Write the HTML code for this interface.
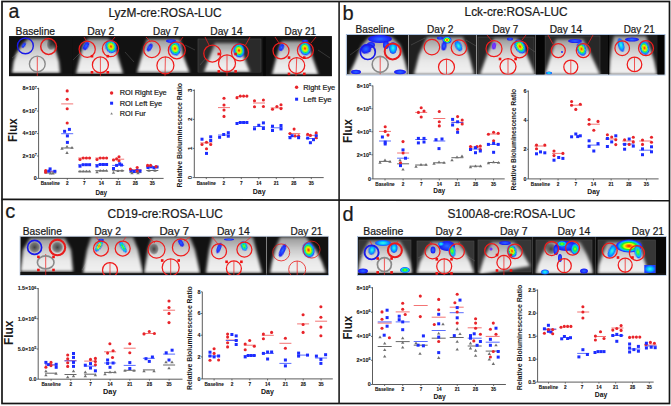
<!DOCTYPE html>
<html><head><meta charset="utf-8"><style>
html,body{margin:0;padding:0;background:#fff;width:671px;height:406px;overflow:hidden}
svg{display:block}
text{font-family:"Liberation Sans", sans-serif}
</style></head><body>
<svg width="671" height="406" viewBox="0 0 671 406">
<rect width="671" height="406" fill="#fff"/>

<defs>
 <linearGradient id="gHead" x1="0" y1="0" x2="0" y2="1">
  <stop offset="0" stop-color="#969696"/>
  <stop offset="0.35" stop-color="#cacaca"/>
  <stop offset="0.65" stop-color="#e8e8e8"/>
  <stop offset="1" stop-color="#f2f2f2"/>
 </linearGradient>
 <linearGradient id="gHeadD" x1="0" y1="0" x2="0" y2="1">
  <stop offset="0" stop-color="#505050"/>
  <stop offset="0.4" stop-color="#a0a0a0"/>
  <stop offset="0.75" stop-color="#dcdcdc"/>
  <stop offset="1" stop-color="#eeeeee"/>
 </linearGradient>
 <radialGradient id="gMulti">
  <stop offset="0" stop-color="#ff1000"/>
  <stop offset="0.22" stop-color="#ff9000"/>
  <stop offset="0.38" stop-color="#f0ff00"/>
  <stop offset="0.55" stop-color="#20f020"/>
  <stop offset="0.75" stop-color="#00c0ff"/>
  <stop offset="0.92" stop-color="#1e32ff"/>
  <stop offset="1" stop-color="#2020ff"/>
 </radialGradient>
 <radialGradient id="gGreen">
  <stop offset="0" stop-color="#b0ff00"/>
  <stop offset="0.35" stop-color="#20f040"/>
  <stop offset="0.7" stop-color="#00c8ff"/>
  <stop offset="1" stop-color="#2030ff"/>
 </radialGradient>
 <radialGradient id="gBlue">
  <stop offset="0" stop-color="#2a70ff"/>
  <stop offset="0.5" stop-color="#2040ff"/>
  <stop offset="1" stop-color="#1a14f0"/>
 </radialGradient>
 <radialGradient id="gCyan">
  <stop offset="0" stop-color="#40ffe0"/>
  <stop offset="0.5" stop-color="#00c0ff"/>
  <stop offset="1" stop-color="#2040ff"/>
 </radialGradient>
 <radialGradient id="gPurple">
  <stop offset="0" stop-color="#8040ff"/>
  <stop offset="1" stop-color="#6020ff"/>
 </radialGradient>
 <radialGradient id="gDark">
  <stop offset="0" stop-color="#181818" stop-opacity="0.75"/>
  <stop offset="0.7" stop-color="#282828" stop-opacity="0.45"/>
  <stop offset="1" stop-color="#303030" stop-opacity="0"/>
 </radialGradient>
 <filter id="fB" x="-30%" y="-30%" width="160%" height="160%"><feGaussianBlur stdDeviation="1.5"/></filter>
 <filter id="fS" x="-30%" y="-30%" width="160%" height="160%"><feGaussianBlur stdDeviation="0.5"/></filter>
</defs>

<rect x="2" y="1.5" width="667.5" height="402" fill="none" stroke="#161616" stroke-width="1.7"/>
<line x1="339.1" y1="1.5" x2="339.1" y2="403.5" stroke="#2a2a2a" stroke-width="1.7"/>
<line x1="1.5" y1="199.35" x2="669.5" y2="200.8" stroke="#161616" stroke-width="1.6"/>
<text x="8.60" y="17.90" font-size="19.5" text-anchor="start" font-weight="normal" fill="#1a1a1a" stroke="#1a1a1a" stroke-width="0.22" >a</text>
<text x="342.50" y="20.30" font-size="20" text-anchor="start" font-weight="normal" fill="#1a1a1a" stroke="#1a1a1a" stroke-width="0.22" >b</text>
<text x="5.20" y="218.30" font-size="20" text-anchor="start" font-weight="normal" fill="#1a1a1a" stroke="#1a1a1a" stroke-width="0.22" >c</text>
<text x="342.40" y="220.90" font-size="20" text-anchor="start" font-weight="normal" fill="#1a1a1a" stroke="#1a1a1a" stroke-width="0.22" >d</text>
<text x="108.40" y="17.20" font-size="12.2" text-anchor="start" font-weight="normal" fill="#1a1a1a" stroke="#1a1a1a" stroke-width="0.22" textLength="113.30" lengthAdjust="spacingAndGlyphs" >LyzM-cre:ROSA-LUC</text>
<text x="464.60" y="16.40" font-size="12.2" text-anchor="start" font-weight="normal" fill="#1a1a1a" stroke="#1a1a1a" stroke-width="0.22" textLength="103.00" lengthAdjust="spacingAndGlyphs" >Lck-cre:ROSA-LUC</text>
<text x="107.60" y="217.70" font-size="12.2" text-anchor="start" font-weight="normal" fill="#1a1a1a" stroke="#1a1a1a" stroke-width="0.22" textLength="115.30" lengthAdjust="spacingAndGlyphs" >CD19-cre:ROSA-LUC</text>
<text x="447.40" y="217.70" font-size="12.2" text-anchor="start" font-weight="normal" fill="#1a1a1a" stroke="#1a1a1a" stroke-width="0.22" textLength="128.00" lengthAdjust="spacingAndGlyphs" >S100A8-cre:ROSA-LUC</text>
<text x="15.60" y="34.60" font-size="10.2" text-anchor="start" font-weight="normal" fill="#1a1a1a" stroke="#1a1a1a" stroke-width="0.22" textLength="39.50" lengthAdjust="spacingAndGlyphs" >Baseline</text>
<text x="87.30" y="34.60" font-size="10.2" text-anchor="start" font-weight="normal" fill="#1a1a1a" stroke="#1a1a1a" stroke-width="0.22" textLength="27.10" lengthAdjust="spacingAndGlyphs" >Day 2</text>
<text x="153.00" y="34.60" font-size="10.2" text-anchor="start" font-weight="normal" fill="#1a1a1a" stroke="#1a1a1a" stroke-width="0.22" textLength="25.80" lengthAdjust="spacingAndGlyphs" >Day 7</text>
<text x="210.30" y="34.60" font-size="10.2" text-anchor="start" font-weight="normal" fill="#1a1a1a" stroke="#1a1a1a" stroke-width="0.22" textLength="32.40" lengthAdjust="spacingAndGlyphs" >Day 14</text>
<text x="284.60" y="34.60" font-size="10.2" text-anchor="start" font-weight="normal" fill="#1a1a1a" stroke="#1a1a1a" stroke-width="0.22" textLength="31.40" lengthAdjust="spacingAndGlyphs" >Day 21</text>
<text x="355.50" y="33.20" font-size="10.2" text-anchor="start" font-weight="normal" fill="#1a1a1a" stroke="#1a1a1a" stroke-width="0.22" textLength="38.90" lengthAdjust="spacingAndGlyphs" >Baseline</text>
<text x="427.00" y="33.20" font-size="10.2" text-anchor="start" font-weight="normal" fill="#1a1a1a" stroke="#1a1a1a" stroke-width="0.22" textLength="26.40" lengthAdjust="spacingAndGlyphs" >Day 2</text>
<text x="492.40" y="33.20" font-size="10.2" text-anchor="start" font-weight="normal" fill="#1a1a1a" stroke="#1a1a1a" stroke-width="0.22" textLength="26.00" lengthAdjust="spacingAndGlyphs" >Day 7</text>
<text x="549.70" y="33.20" font-size="10.2" text-anchor="start" font-weight="normal" fill="#1a1a1a" stroke="#1a1a1a" stroke-width="0.22" textLength="32.40" lengthAdjust="spacingAndGlyphs" >Day 14</text>
<text x="623.70" y="33.20" font-size="10.2" text-anchor="start" font-weight="normal" fill="#1a1a1a" stroke="#1a1a1a" stroke-width="0.22" textLength="31.10" lengthAdjust="spacingAndGlyphs" >Day 21</text>
<text x="22.80" y="234.50" font-size="10.2" text-anchor="start" font-weight="normal" fill="#1a1a1a" stroke="#1a1a1a" stroke-width="0.22" textLength="39.20" lengthAdjust="spacingAndGlyphs" >Baseline</text>
<text x="94.20" y="234.50" font-size="10.2" text-anchor="start" font-weight="normal" fill="#1a1a1a" stroke="#1a1a1a" stroke-width="0.22" textLength="26.80" lengthAdjust="spacingAndGlyphs" >Day 2</text>
<text x="159.40" y="234.50" font-size="10.2" text-anchor="start" font-weight="normal" fill="#1a1a1a" stroke="#1a1a1a" stroke-width="0.22" textLength="29.80" lengthAdjust="spacingAndGlyphs" >Day 7</text>
<text x="216.90" y="234.50" font-size="10.2" text-anchor="start" font-weight="normal" fill="#1a1a1a" stroke="#1a1a1a" stroke-width="0.22" textLength="32.80" lengthAdjust="spacingAndGlyphs" >Day 14</text>
<text x="290.50" y="234.50" font-size="10.2" text-anchor="start" font-weight="normal" fill="#1a1a1a" stroke="#1a1a1a" stroke-width="0.22" textLength="31.90" lengthAdjust="spacingAndGlyphs" >Day 21</text>
<text x="363.30" y="234.80" font-size="10.2" text-anchor="start" font-weight="normal" fill="#1a1a1a" stroke="#1a1a1a" stroke-width="0.22" textLength="40.00" lengthAdjust="spacingAndGlyphs" >Baseline</text>
<text x="435.50" y="234.80" font-size="10.2" text-anchor="start" font-weight="normal" fill="#1a1a1a" stroke="#1a1a1a" stroke-width="0.22" textLength="26.50" lengthAdjust="spacingAndGlyphs" >Day 2</text>
<text x="500.00" y="234.80" font-size="10.2" text-anchor="start" font-weight="normal" fill="#1a1a1a" stroke="#1a1a1a" stroke-width="0.22" textLength="27.50" lengthAdjust="spacingAndGlyphs" >Day 7</text>
<text x="557.40" y="234.80" font-size="10.2" text-anchor="start" font-weight="normal" fill="#1a1a1a" stroke="#1a1a1a" stroke-width="0.22" textLength="33.00" lengthAdjust="spacingAndGlyphs" >Day 14</text>
<text x="631.70" y="234.80" font-size="10.2" text-anchor="start" font-weight="normal" fill="#1a1a1a" stroke="#1a1a1a" stroke-width="0.22" textLength="32.30" lengthAdjust="spacingAndGlyphs" >Day 21</text>
<rect x="9" y="36.1" width="322.9" height="40.1" fill="#101010"/>
<clipPath id="c1"><rect x="9.2" y="36.3" width="63.3" height="39.7"/></clipPath>
<g clip-path="url(#c1)">
<rect x="9.2" y="36.3" width="63.3" height="39.7" fill="#121212"/>
<line x1="12" y1="58" x2="22" y2="50" stroke="#6a6a6a" stroke-width="0.6" opacity="0.7"/>
<polygon points="12,73 13.5,62 16.5,53 22,45 28,38.5 47,38.5 53.5,45 56.5,53 59,62 60,73" fill="url(#gHead)" filter="url(#fB)"/>
<ellipse cx="51" cy="44.5" rx="4.5" ry="6" fill="url(#gDark)"/>
<rect x="9.2" y="73.5" width="63.3" height="2.5" fill="#141414"/>
<ellipse cx="23.7" cy="45.3" rx="1.5" ry="3" transform="rotate(35 23.7 45.3)" fill="url(#gBlue)" filter="url(#fS)"/>
<line x1="37.3" y1="56.5" x2="37.3" y2="76" stroke="#f02020" stroke-width="0.75"/>
<ellipse cx="25.4" cy="45.9" rx="7.9" ry="7.9" fill="none" stroke="#1a1ae8" stroke-width="1.4"/>
<ellipse cx="48.6" cy="46.5" rx="7.9" ry="7.9" fill="none" stroke="#e81c1c" stroke-width="1.5"/>
<ellipse cx="37.3" cy="64" rx="7.9" ry="7.9" fill="none" stroke="#8a8a8a" stroke-width="1.4"/>
</g>
<clipPath id="c2"><rect x="72.5" y="36.3" width="62.5" height="39.7"/></clipPath>
<g clip-path="url(#c2)">
<rect x="72.5" y="36.3" width="62.5" height="39.7" fill="#121212"/>
<line x1="73" y1="60" x2="80" y2="53" stroke="#6a6a6a" stroke-width="0.6" opacity="0.7"/>
<line x1="125" y1="52" x2="134" y2="62" stroke="#6a6a6a" stroke-width="0.6" opacity="0.7"/>
<polygon points="76,73.5 83,45 88,38.5 108,38.5 114.5,45 123,73.5" fill="url(#gHead)" filter="url(#fB)"/>
<rect x="72.5" y="74" width="62.5" height="2" fill="#141414"/>
<ellipse cx="86.1" cy="45.9" rx="2.4" ry="4.5" transform="rotate(30 86.1 45.9)" fill="url(#gBlue)" filter="url(#fS)"/>
<ellipse cx="111" cy="46.5" rx="5.5" ry="6.8" transform="rotate(-20 111 46.5)" fill="url(#gMulti)" filter="url(#fS)"/>
<line x1="100.4" y1="57" x2="100.4" y2="76" stroke="#f02020" stroke-width="0.75"/>
<line x1="84" y1="37" x2="86.5" y2="41" stroke="#f02020" stroke-width="0.75"/>
<line x1="115" y1="37" x2="112" y2="40.5" stroke="#f02020" stroke-width="0.75"/>
<ellipse cx="87.2" cy="49.2" rx="8.1" ry="8.1" fill="none" stroke="#f01c1c" stroke-width="1.25"/>
<ellipse cx="110.5" cy="48.6" rx="8.1" ry="8.1" fill="none" stroke="#f01c1c" stroke-width="1.25"/>
<ellipse cx="100.4" cy="64.9" rx="8" ry="8" fill="none" stroke="#f01c1c" stroke-width="1.25"/>
<rect x="90.7" y="54.900000000000006" width="2.6" height="2.6" fill="#f01010"/>
<rect x="106.5" y="54.900000000000006" width="2.6" height="2.6" fill="#f01010"/>
<rect x="90.7" y="71.0" width="2.6" height="2.6" fill="#f01010"/>
<rect x="106.5" y="71.0" width="2.6" height="2.6" fill="#f01010"/>
</g>
<clipPath id="c3"><rect x="135" y="36.3" width="61" height="39.7"/></clipPath>
<g clip-path="url(#c3)">
<rect x="135" y="36.3" width="61" height="39.7" fill="#121212"/>
<line x1="185" y1="45" x2="195" y2="50" stroke="#6a6a6a" stroke-width="0.6" opacity="0.7"/>
<polygon points="137,72.5 142,55 147,39 180,39 183,55 189.5,72.5" fill="url(#gHead)" filter="url(#fB)"/>
<rect x="135" y="73" width="61" height="3" fill="#141414"/>
<ellipse cx="171" cy="41" rx="5" ry="1.8" transform="rotate(0 171 41)" fill="url(#gBlue)" filter="url(#fS)"/>
<ellipse cx="149.7" cy="47.5" rx="2.2" ry="4.3" transform="rotate(30 149.7 47.5)" fill="url(#gBlue)" filter="url(#fS)"/>
<ellipse cx="175" cy="48.5" rx="5.5" ry="7.2" transform="rotate(-15 175 48.5)" fill="url(#gMulti)" filter="url(#fS)"/>
<line x1="165.4" y1="57" x2="165" y2="76" stroke="#f02020" stroke-width="0.75"/>
<line x1="146" y1="37" x2="150" y2="41" stroke="#f02020" stroke-width="0.75"/>
<line x1="183" y1="37" x2="180" y2="41" stroke="#f02020" stroke-width="0.75"/>
<ellipse cx="151.9" cy="49.2" rx="8.3" ry="8.3" fill="none" stroke="#f01c1c" stroke-width="1.25"/>
<ellipse cx="176.8" cy="50.3" rx="8.5" ry="8.5" fill="none" stroke="#f01c1c" stroke-width="1.25"/>
<ellipse cx="165.4" cy="65.4" rx="8.5" ry="8.5" fill="none" stroke="#f01c1c" stroke-width="1.25"/>
</g>
<clipPath id="c4"><rect x="196" y="36.3" width="67.30000000000001" height="39.7"/></clipPath>
<g clip-path="url(#c4)">
<rect x="196" y="36.3" width="67.30000000000001" height="39.7" fill="#121212"/>
<rect x="198" y="39" width="63" height="33.5" fill="#2a2a2a" stroke="#4c4c4c" stroke-width="0.6"/>
<line x1="200" y1="65" x2="206" y2="58" stroke="#6a6a6a" stroke-width="0.6" opacity="0.7"/>
<polygon points="204,72 215,43 238,43 250,72" fill="url(#gHead)" filter="url(#fB)"/>
<rect x="196" y="72.5" width="67.30000000000001" height="3.5" fill="#141414"/>
<ellipse cx="239" cy="50.5" rx="5.5" ry="7" transform="rotate(-10 239 50.5)" fill="url(#gMulti)" filter="url(#fS)"/>
<line x1="227" y1="55" x2="227" y2="76" stroke="#f02020" stroke-width="0.75"/>
<line x1="205" y1="37" x2="209" y2="45" stroke="#f02020" stroke-width="0.75"/>
<line x1="250" y1="37" x2="245.5" y2="45" stroke="#f02020" stroke-width="0.75"/>
<ellipse cx="212.3" cy="53.5" rx="8.5" ry="8.5" fill="none" stroke="#f01c1c" stroke-width="1.25"/>
<ellipse cx="240" cy="52.4" rx="8.5" ry="8.5" fill="none" stroke="#f01c1c" stroke-width="1.25"/>
<ellipse cx="227" cy="63.3" rx="8.5" ry="8.5" fill="none" stroke="#f01c1c" stroke-width="1.25"/>
<rect x="217.5" y="52.7" width="2.6" height="2.6" fill="#f01010"/>
<rect x="234.29999999999998" y="52.7" width="2.6" height="2.6" fill="#f01010"/>
<rect x="217.5" y="70.10000000000001" width="2.6" height="2.6" fill="#f01010"/>
<rect x="234.29999999999998" y="70.10000000000001" width="2.6" height="2.6" fill="#f01010"/>
</g>
<clipPath id="c5"><rect x="263.3" y="36.3" width="68.19999999999999" height="39.7"/></clipPath>
<g clip-path="url(#c5)">
<rect x="263.3" y="36.3" width="68.19999999999999" height="39.7" fill="#121212"/>
<line x1="318" y1="50" x2="330" y2="58" stroke="#6a6a6a" stroke-width="0.6" opacity="0.7"/>
<polygon points="272,74.5 276,59 281.5,41 307.5,41 313,59 318.4,74.5" fill="url(#gHead)" filter="url(#fB)"/>
<rect x="263.3" y="74.5" width="68.19999999999999" height="1.5" fill="#141414"/>
<ellipse cx="305" cy="41" rx="3" ry="1.3" transform="rotate(0 305 41)" fill="url(#gBlue)" filter="url(#fS)"/>
<ellipse cx="281.5" cy="47.5" rx="2.2" ry="3.8" transform="rotate(25 281.5 47.5)" fill="url(#gBlue)" filter="url(#fS)"/>
<ellipse cx="305" cy="48.5" rx="5.5" ry="7" transform="rotate(-15 305 48.5)" fill="url(#gMulti)" filter="url(#fS)"/>
<line x1="296.7" y1="58" x2="296" y2="76" stroke="#f02020" stroke-width="0.75"/>
<line x1="275" y1="37" x2="279" y2="43" stroke="#f02020" stroke-width="0.75"/>
<line x1="316" y1="37" x2="311" y2="43" stroke="#f02020" stroke-width="0.75"/>
<ellipse cx="281" cy="50.8" rx="8" ry="8" fill="none" stroke="#f01c1c" stroke-width="1.25"/>
<ellipse cx="305.4" cy="50.3" rx="8" ry="8" fill="none" stroke="#f01c1c" stroke-width="1.25"/>
<ellipse cx="296.7" cy="65.5" rx="8" ry="8" fill="none" stroke="#f01c1c" stroke-width="1.25"/>
<rect x="287.7" y="56.300000000000004" width="2.6" height="2.6" fill="#f01010"/>
<rect x="303.0" y="56.300000000000004" width="2.6" height="2.6" fill="#f01010"/>
<rect x="287.7" y="72.60000000000001" width="2.6" height="2.6" fill="#f01010"/>
<rect x="303.0" y="72.60000000000001" width="2.6" height="2.6" fill="#f01010"/>
</g>
<rect x="263.3" y="37" width="2.5" height="39" fill="#080808"/>
<rect x="346.3" y="34.5" width="318.7" height="40.5" fill="none" stroke="#9ab4d8" stroke-width="0.8"/>
<clipPath id="c6"><rect x="346.8" y="35" width="61.599999999999966" height="39.5"/></clipPath>
<g clip-path="url(#c6)">
<rect x="346.8" y="35" width="61.599999999999966" height="39.5" fill="#121212"/>
<line x1="350" y1="55" x2="365" y2="44" stroke="#6a6a6a" stroke-width="0.6" opacity="0.7"/>
<polygon points="349,74.5 355,62 362,45 369,37 392,37 400,45 405,62 408,74.5" fill="url(#gHead)" filter="url(#fB)"/>
<ellipse cx="380" cy="39" rx="12" ry="4" transform="rotate(0 380 39)" fill="url(#gBlue)" filter="url(#fS)"/>
<ellipse cx="371" cy="45" rx="4" ry="3" transform="rotate(0 371 45)" fill="url(#gBlue)" filter="url(#fS)"/>
<ellipse cx="386" cy="45" rx="3" ry="4" transform="rotate(0 386 45)" fill="url(#gBlue)" filter="url(#fS)"/>
<ellipse cx="366" cy="49" rx="5.5" ry="4.5" transform="rotate(-20 366 49)" fill="url(#gBlue)" filter="url(#fS)"/>
<ellipse cx="393" cy="48" rx="4" ry="6" transform="rotate(0 393 48)" fill="url(#gCyan)" filter="url(#fS)"/>
<ellipse cx="356" cy="72" rx="5" ry="2.2" transform="rotate(0 356 72)" fill="url(#gBlue)" filter="url(#fS)"/>
<ellipse cx="400" cy="72" rx="6" ry="2.5" transform="rotate(0 400 72)" fill="url(#gBlue)" filter="url(#fS)"/>
<line x1="380.2" y1="57" x2="380.2" y2="74.5" stroke="#f02020" stroke-width="0.75"/>
<ellipse cx="367.8" cy="52" rx="7.5" ry="7.5" fill="none" stroke="#1a1ae8" stroke-width="1.7"/>
<ellipse cx="392.7" cy="51.4" rx="8" ry="8" fill="none" stroke="#e81c1c" stroke-width="2.0"/>
<ellipse cx="380.2" cy="64.4" rx="8" ry="8" fill="none" stroke="#8a8a8a" stroke-width="1.6"/>
</g>
<clipPath id="c7"><rect x="408.4" y="35" width="68.0" height="39.5"/></clipPath>
<g clip-path="url(#c7)">
<rect x="408.4" y="35" width="68.0" height="39.5" fill="#202020"/>
<line x1="411" y1="45" x2="425" y2="38" stroke="#6a6a6a" stroke-width="0.6" opacity="0.7"/>
<line x1="466" y1="40" x2="476" y2="46" stroke="#6a6a6a" stroke-width="0.6" opacity="0.7"/>
<polygon points="414,74.5 419,55 427,37 463,37 469,55 474,74.5" fill="url(#gHead)" filter="url(#fB)"/>
<ellipse cx="447" cy="40" rx="4.5" ry="3.5" transform="rotate(0 447 40)" fill="url(#gMulti)" filter="url(#fS)"/>
<ellipse cx="444" cy="46" rx="2.5" ry="4.5" transform="rotate(10 444 46)" fill="url(#gBlue)" filter="url(#fS)"/>
<ellipse cx="440" cy="38" rx="3" ry="1.5" transform="rotate(0 440 38)" fill="url(#gBlue)" filter="url(#fS)"/>
<ellipse cx="458.5" cy="46" rx="3.2" ry="5.5" transform="rotate(-25 458.5 46)" fill="url(#gCyan)" filter="url(#fS)"/>
<line x1="446.5" y1="59" x2="446.5" y2="74.5" stroke="#f02020" stroke-width="0.75"/>
<ellipse cx="431.9" cy="47.1" rx="7.8" ry="7.8" fill="none" stroke="#f01c1c" stroke-width="1.25"/>
<ellipse cx="459" cy="47.6" rx="7.8" ry="7.8" fill="none" stroke="#f01c1c" stroke-width="1.25"/>
<ellipse cx="446.5" cy="67.1" rx="8" ry="8" fill="none" stroke="#f01c1c" stroke-width="1.25"/>
</g>
<clipPath id="c8"><rect x="476.4" y="35" width="59.200000000000045" height="39.5"/></clipPath>
<g clip-path="url(#c8)">
<rect x="476.4" y="35" width="59.200000000000045" height="39.5" fill="#121212"/>
<rect x="478" y="37" width="56" height="37" fill="#282828" stroke="#4c4c4c" stroke-width="0.6"/>
<line x1="522" y1="43" x2="535" y2="52" stroke="#6a6a6a" stroke-width="0.6" opacity="0.7"/>
<polygon points="480,74.5 487,55 494,38 517,38 527,55 535,74.5" fill="url(#gHead)" filter="url(#fB)"/>
<ellipse cx="510" cy="39" rx="3" ry="1.5" transform="rotate(0 510 39)" fill="url(#gBlue)" filter="url(#fS)"/>
<ellipse cx="494" cy="46" rx="2" ry="3.5" transform="rotate(10 494 46)" fill="url(#gPurple)" filter="url(#fS)"/>
<ellipse cx="520" cy="46.5" rx="5" ry="7.5" transform="rotate(-30 520 46.5)" fill="url(#gMulti)" filter="url(#fS)"/>
<line x1="508" y1="58" x2="508" y2="74.5" stroke="#f02020" stroke-width="0.75"/>
<line x1="487" y1="35" x2="492" y2="41" stroke="#f02020" stroke-width="0.75"/>
<line x1="526" y1="35" x2="522" y2="40" stroke="#f02020" stroke-width="0.75"/>
<ellipse cx="494" cy="48.7" rx="8" ry="8" fill="none" stroke="#f01c1c" stroke-width="1.25"/>
<ellipse cx="519.4" cy="49.3" rx="8.5" ry="8.5" fill="none" stroke="#f01c1c" stroke-width="1.25"/>
<ellipse cx="508" cy="66.6" rx="8" ry="8" fill="none" stroke="#f01c1c" stroke-width="1.25"/>
<rect x="498.7" y="57.7" width="2.6" height="2.6" fill="#f01010"/>
<rect x="514.3000000000001" y="57.7" width="2.6" height="2.6" fill="#f01010"/>
</g>
<clipPath id="c9"><rect x="535.6" y="35" width="72.39999999999998" height="39.5"/></clipPath>
<g clip-path="url(#c9)">
<rect x="535.6" y="35" width="72.39999999999998" height="39.5" fill="#121212"/>
<rect x="545" y="36" width="55" height="38" fill="#282828" stroke="#4c4c4c" stroke-width="0.6"/>
<polygon points="545,74.5 551,55 556,39 583,39 591,55 600,74.5" fill="url(#gHead)" filter="url(#fB)"/>
<ellipse cx="575" cy="41" rx="7" ry="2" transform="rotate(0 575 41)" fill="url(#gBlue)" filter="url(#fS)"/>
<ellipse cx="581.5" cy="49" rx="4.5" ry="7" transform="rotate(-20 581.5 49)" fill="url(#gMulti)" filter="url(#fS)"/>
<ellipse cx="562" cy="52" rx="1" ry="1" transform="rotate(0 562 52)" fill="url(#gBlue)" filter="url(#fS)"/>
<ellipse cx="549" cy="73" rx="3" ry="1.5" transform="rotate(0 549 73)" fill="url(#gCyan)" filter="url(#fS)"/>
<line x1="570.8" y1="60" x2="570.8" y2="74.5" stroke="#f02020" stroke-width="0.75"/>
<line x1="548" y1="35" x2="553" y2="44" stroke="#f02020" stroke-width="0.75"/>
<line x1="593" y1="35" x2="588" y2="44" stroke="#f02020" stroke-width="0.75"/>
<ellipse cx="558.3" cy="50.6" rx="7" ry="7" fill="none" stroke="#f01c1c" stroke-width="1.25"/>
<ellipse cx="583.3" cy="50.6" rx="7" ry="7" fill="none" stroke="#f01c1c" stroke-width="1.25"/>
<ellipse cx="570.8" cy="67" rx="7" ry="7" fill="none" stroke="#f01c1c" stroke-width="1.25"/>
</g>
<rect x="535.6" y="35" width="9" height="39.5" fill="#050505"/>
<clipPath id="c10"><rect x="608" y="35" width="56.5" height="39.5"/></clipPath>
<g clip-path="url(#c10)">
<rect x="608" y="35" width="56.5" height="39.5" fill="#1e1e1e"/>
<polygon points="609,74.5 610,60 612,45 614,36 646,36 649,45 654,60 657,74.5" fill="url(#gHead)" filter="url(#fB)"/>
<ellipse cx="632" cy="39.5" rx="7" ry="2" transform="rotate(0 632 39.5)" fill="url(#gBlue)" filter="url(#fS)"/>
<ellipse cx="621" cy="45" rx="3" ry="7" transform="rotate(-15 621 45)" fill="url(#gCyan)" filter="url(#fS)"/>
<ellipse cx="644.5" cy="48" rx="4.8" ry="7" transform="rotate(-15 644.5 48)" fill="url(#gMulti)" filter="url(#fS)"/>
<line x1="634.5" y1="57" x2="634.5" y2="72" stroke="#f02020" stroke-width="0.75"/>
<ellipse cx="622.2" cy="48.2" rx="7.3" ry="7.3" fill="none" stroke="#f01c1c" stroke-width="1.25"/>
<ellipse cx="646" cy="48.2" rx="7.5" ry="7.5" fill="none" stroke="#f01c1c" stroke-width="1.25"/>
<ellipse cx="634.5" cy="64.4" rx="7.3" ry="7.3" fill="none" stroke="#f01c1c" stroke-width="1.25"/>
</g>
<rect x="608" y="35" width="1.2" height="39.5" fill="#000"/><rect x="657.5" y="35" width="7" height="39.5" fill="#050505"/>
<rect x="20" y="236.2" width="308.6" height="39" fill="none" stroke="#9ab4d8" stroke-width="0.6"/>
<clipPath id="c11"><rect x="20.3" y="236.5" width="60.7" height="38.5"/></clipPath>
<g clip-path="url(#c11)">
<rect x="20.3" y="236.5" width="60.7" height="38.5" fill="#121212"/>
<polygon points="20.5,271.5 23,250 30,238 65,238 71,250 73,271.5" fill="url(#gHead)" filter="url(#fB)"/>
<ellipse cx="34.6" cy="247.4" rx="6" ry="6" fill="url(#gDark)"/>
<ellipse cx="57.4" cy="247.4" rx="6" ry="6" fill="url(#gDark)"/>
<rect x="20.3" y="272" width="60.7" height="3" fill="#141414"/>
<line x1="45.7" y1="254" x2="45.7" y2="275" stroke="#f02020" stroke-width="0.75"/>
<ellipse cx="34.6" cy="247.4" rx="7" ry="7" fill="none" stroke="#1a1ae8" stroke-width="1.7"/>
<ellipse cx="57.4" cy="247.4" rx="7.8" ry="7.8" fill="none" stroke="#e81c1c" stroke-width="2.1"/>
<ellipse cx="45.7" cy="262.4" rx="8.3" ry="6.5" fill="none" stroke="#8a8a8a" stroke-width="1.6"/>
<rect x="37.1" y="255.59999999999997" width="2.6" height="2.6" fill="#f01010"/>
<rect x="52.2" y="255.59999999999997" width="2.6" height="2.6" fill="#f01010"/>
<rect x="37.1" y="268.7" width="2.6" height="2.6" fill="#f01010"/>
<rect x="52.2" y="268.7" width="2.6" height="2.6" fill="#f01010"/>
</g>
<clipPath id="c12"><rect x="81" y="236.5" width="62" height="38.5"/></clipPath>
<g clip-path="url(#c12)">
<rect x="81" y="236.5" width="62" height="38.5" fill="#121212"/>
<line x1="82" y1="270" x2="95" y2="250" stroke="#6a6a6a" stroke-width="0.6" opacity="0.7"/>
<polygon points="83,273 87,250 91,237 133,237 138,250 143,273" fill="url(#gHead)" filter="url(#fB)"/>
<rect x="81" y="273.3" width="62" height="1.6999999999999886" fill="#141414"/>
<ellipse cx="101" cy="240" rx="3" ry="1.3" transform="rotate(0 101 240)" fill="url(#gBlue)" filter="url(#fS)"/>
<ellipse cx="99" cy="246" rx="2.5" ry="6.5" transform="rotate(30 99 246)" fill="url(#gMulti)" filter="url(#fS)"/>
<ellipse cx="123" cy="247" rx="2.3" ry="6.5" transform="rotate(-30 123 247)" fill="url(#gGreen)" filter="url(#fS)"/>
<line x1="110" y1="262" x2="110" y2="275" stroke="#f02020" stroke-width="0.75"/>
<line x1="96" y1="237" x2="99" y2="241" stroke="#f02020" stroke-width="0.75"/>
<line x1="126" y1="237" x2="123" y2="241" stroke="#f02020" stroke-width="0.75"/>
<ellipse cx="101" cy="248.5" rx="7.5" ry="7.5" fill="none" stroke="#f01c1c" stroke-width="1.25"/>
<ellipse cx="122.7" cy="248.5" rx="7.5" ry="7.5" fill="none" stroke="#f01c1c" stroke-width="1.25"/>
<ellipse cx="110" cy="270" rx="7.5" ry="7.5" fill="none" stroke="#f01c1c" stroke-width="1.25"/>
</g>
<clipPath id="c13"><rect x="143" y="236.5" width="58" height="38.5"/></clipPath>
<g clip-path="url(#c13)">
<rect x="143" y="236.5" width="58" height="38.5" fill="#121212"/>
<polygon points="144,273 148,250 152,237 190,237 195,250 200,273" fill="url(#gHead)" filter="url(#fB)"/>
<ellipse cx="154" cy="249" rx="5" ry="6" fill="url(#gDark)"/>
<rect x="143" y="273.3" width="58" height="1.6999999999999886" fill="#141414"/>
<ellipse cx="181" cy="243" rx="2.2" ry="4" transform="rotate(-30 181 243)" fill="url(#gBlue)" filter="url(#fS)"/>
<line x1="170.7" y1="259" x2="170.7" y2="275" stroke="#f02020" stroke-width="0.75"/>
<line x1="148" y1="237" x2="155" y2="243" stroke="#f02020" stroke-width="0.75"/>
<line x1="190" y1="237" x2="184" y2="241" stroke="#f02020" stroke-width="0.75"/>
<ellipse cx="156.5" cy="249.6" rx="8.5" ry="8.5" fill="none" stroke="#f01c1c" stroke-width="1.25"/>
<ellipse cx="180.9" cy="247.4" rx="8.5" ry="8.5" fill="none" stroke="#f01c1c" stroke-width="1.25"/>
<ellipse cx="170.7" cy="267.4" rx="8.5" ry="8.5" fill="none" stroke="#f01c1c" stroke-width="1.25"/>
<rect x="160.89999999999998" y="259.2" width="2.6" height="2.6" fill="#f01010"/>
<rect x="177.39999999999998" y="259.2" width="2.6" height="2.6" fill="#f01010"/>
</g>
<clipPath id="c14"><rect x="201" y="236.5" width="65.69999999999999" height="38.5"/></clipPath>
<g clip-path="url(#c14)">
<rect x="201" y="236.5" width="65.69999999999999" height="38.5" fill="#121212"/>
<polygon points="206,273 209,250 212,237 253,237 256,250 262,273" fill="url(#gHead)" filter="url(#fB)"/>
<rect x="201" y="273.3" width="65.69999999999999" height="1.6999999999999886" fill="#141414"/>
<ellipse cx="229" cy="239.5" rx="5" ry="1" transform="rotate(0 229 239.5)" fill="url(#gBlue)" filter="url(#fS)"/>
<ellipse cx="219" cy="248" rx="2" ry="5.5" transform="rotate(20 219 248)" fill="url(#gBlue)" filter="url(#fS)"/>
<ellipse cx="244" cy="246" rx="3.2" ry="5" transform="rotate(-20 244 246)" fill="url(#gGreen)" filter="url(#fS)"/>
<line x1="233.9" y1="261" x2="233.9" y2="275" stroke="#f02020" stroke-width="0.75"/>
<line x1="212" y1="237" x2="218" y2="244" stroke="#f02020" stroke-width="0.75"/>
<line x1="251" y1="237" x2="245" y2="242" stroke="#f02020" stroke-width="0.75"/>
<ellipse cx="219" cy="251.3" rx="7.5" ry="7.5" fill="none" stroke="#f01c1c" stroke-width="1.25"/>
<ellipse cx="244.4" cy="249.6" rx="7.5" ry="7.5" fill="none" stroke="#f01c1c" stroke-width="1.25"/>
<ellipse cx="233.9" cy="268.4" rx="7.5" ry="7.5" fill="none" stroke="#f01c1c" stroke-width="1.25"/>
<rect x="225.29999999999998" y="260.5" width="2.6" height="2.6" fill="#f01010"/>
<rect x="240.1" y="260.5" width="2.6" height="2.6" fill="#f01010"/>
</g>
<clipPath id="c15"><rect x="266.7" y="236.5" width="61.69999999999999" height="38.5"/></clipPath>
<g clip-path="url(#c15)">
<rect x="266.7" y="236.5" width="61.69999999999999" height="38.5" fill="#121212"/>
<polygon points="270,273 272,262 275,250 280,237 306,237 316,250 322,262 326,273" fill="url(#gHead)" filter="url(#fB)"/>
<rect x="266.7" y="273.3" width="61.69999999999999" height="1.6999999999999886" fill="#141414"/>
<ellipse cx="282.5" cy="250.5" rx="2.5" ry="7" transform="rotate(25 282.5 250.5)" fill="url(#gBlue)" filter="url(#fS)"/>
<ellipse cx="308.5" cy="250" rx="6" ry="7.8" transform="rotate(-15 308.5 250)" fill="url(#gMulti)" filter="url(#fS)"/>
<line x1="297.2" y1="261" x2="297.2" y2="275" stroke="#f02020" stroke-width="0.75"/>
<ellipse cx="281.2" cy="252.4" rx="8.5" ry="8.5" fill="none" stroke="#e81c1c" stroke-width="0.8"/>
<ellipse cx="311.6" cy="249.6" rx="8.5" ry="8.5" fill="none" stroke="#e81c1c" stroke-width="0.8"/>
<ellipse cx="297.2" cy="269.5" rx="8.5" ry="8.5" fill="none" stroke="#e81c1c" stroke-width="0.8"/>
</g>
<rect x="357.4" y="236.5" width="308.8" height="38.8" fill="none" stroke="#9ab4d8" stroke-width="0.6"/>
<clipPath id="c16"><rect x="357.7" y="236.8" width="56.30000000000001" height="38.19999999999999"/></clipPath>
<g clip-path="url(#c16)">
<rect x="357.7" y="236.8" width="56.30000000000001" height="38.19999999999999" fill="#121212"/>
<rect x="359" y="240" width="52" height="33" fill="#363636" stroke="#4c4c4c" stroke-width="0.6"/>
<line x1="360" y1="256" x2="370" y2="249" stroke="#6a6a6a" stroke-width="0.6" opacity="0.7"/>
<polygon points="358,273 360,262 363,252 369,241 400,241 406,252 410,262 412,273" fill="url(#gHead)" filter="url(#fB)"/>
<rect x="357.7" y="273.2" width="56.30000000000001" height="1.8000000000000114" fill="#141414"/>
<ellipse cx="383" cy="243" rx="8" ry="3" transform="rotate(0 383 243)" fill="url(#gCyan)" filter="url(#fS)"/>
<ellipse cx="372" cy="250" rx="3.5" ry="5" transform="rotate(15 372 250)" fill="url(#gCyan)" filter="url(#fS)"/>
<ellipse cx="394" cy="248" rx="3.5" ry="5" transform="rotate(0 394 248)" fill="url(#gCyan)" filter="url(#fS)"/>
<ellipse cx="363" cy="271" rx="5" ry="2.5" transform="rotate(0 363 271)" fill="url(#gBlue)" filter="url(#fS)"/>
<ellipse cx="405" cy="270" rx="5" ry="3" transform="rotate(0 405 270)" fill="url(#gGreen)" filter="url(#fS)"/>
<line x1="384.4" y1="257" x2="384.4" y2="275" stroke="#f02020" stroke-width="0.75"/>
<line x1="370" y1="241" x2="372" y2="245" stroke="#f02020" stroke-width="0.75"/>
<line x1="398" y1="241" x2="396" y2="244" stroke="#f02020" stroke-width="0.75"/>
<ellipse cx="371.6" cy="252.4" rx="7" ry="7" fill="none" stroke="#1a1ae8" stroke-width="1.9"/>
<ellipse cx="394.9" cy="250.2" rx="7" ry="7" fill="none" stroke="#e81c1c" stroke-width="2.1"/>
<ellipse cx="384.4" cy="264.6" rx="7" ry="7" fill="none" stroke="#8a8a8a" stroke-width="1.7"/>
<rect x="376.4" y="257.2" width="2.6" height="2.6" fill="#f01010"/>
<rect x="390.3" y="257.2" width="2.6" height="2.6" fill="#f01010"/>
<rect x="376.4" y="271.09999999999997" width="2.6" height="2.6" fill="#f01010"/>
<rect x="390.3" y="271.09999999999997" width="2.6" height="2.6" fill="#f01010"/>
</g>
<clipPath id="c17"><rect x="414" y="236.8" width="62" height="38.19999999999999"/></clipPath>
<g clip-path="url(#c17)">
<rect x="414" y="236.8" width="62" height="38.19999999999999" fill="#121212"/>
<rect x="417" y="241" width="57" height="32" fill="#363636" stroke="#4c4c4c" stroke-width="0.6"/>
<line x1="418" y1="258" x2="430" y2="252" stroke="#6a6a6a" stroke-width="0.6" opacity="0.7"/>
<line x1="462" y1="253" x2="475" y2="261" stroke="#6a6a6a" stroke-width="0.6" opacity="0.7"/>
<polygon points="417,273 420,262 425,252 432,242 458,242 465,252 470,262 474,273" fill="url(#gHead)" filter="url(#fB)"/>
<rect x="414" y="273.2" width="62" height="1.8000000000000114" fill="#141414"/>
<ellipse cx="447" cy="246" rx="8" ry="5" transform="rotate(0 447 246)" fill="url(#gBlue)" filter="url(#fS)"/>
<ellipse cx="441" cy="244" rx="3" ry="2" transform="rotate(0 441 244)" fill="url(#gCyan)" filter="url(#fS)"/>
<ellipse cx="433" cy="250" rx="2.5" ry="3.5" transform="rotate(0 433 250)" fill="url(#gBlue)" filter="url(#fS)"/>
<ellipse cx="452" cy="251" rx="3.5" ry="6" transform="rotate(-10 452 251)" fill="url(#gGreen)" filter="url(#fS)"/>
<line x1="444.2" y1="258" x2="444.2" y2="275" stroke="#f02020" stroke-width="0.75"/>
<line x1="430" y1="242" x2="432" y2="244" stroke="#f02020" stroke-width="0.75"/>
<line x1="460" y1="242" x2="458" y2="244" stroke="#f02020" stroke-width="0.75"/>
<ellipse cx="432.5" cy="251.3" rx="7.5" ry="7.5" fill="none" stroke="#f01c1c" stroke-width="1.25"/>
<ellipse cx="456.9" cy="251.3" rx="7.5" ry="7.5" fill="none" stroke="#f01c1c" stroke-width="1.25"/>
<ellipse cx="444.2" cy="266.3" rx="7.5" ry="7.5" fill="none" stroke="#f01c1c" stroke-width="1.25"/>
<rect x="435.5" y="258.0" width="2.6" height="2.6" fill="#f01010"/>
<rect x="450.2" y="258.0" width="2.6" height="2.6" fill="#f01010"/>
<rect x="435.5" y="272.09999999999997" width="2.6" height="2.6" fill="#f01010"/>
<rect x="450.2" y="272.09999999999997" width="2.6" height="2.6" fill="#f01010"/>
</g>
<clipPath id="c18"><rect x="476" y="236.8" width="56.89999999999998" height="38.19999999999999"/></clipPath>
<g clip-path="url(#c18)">
<rect x="476" y="236.8" width="56.89999999999998" height="38.19999999999999" fill="#121212"/>
<rect x="478" y="240" width="53" height="32" fill="#363636" stroke="#4c4c4c" stroke-width="0.6"/>
<polygon points="479,274.5 484,258 492,242 514,242 522,252 530,266" fill="url(#gHead)" filter="url(#fB)"/>
<rect x="476" y="273.5" width="56.89999999999998" height="1.5" fill="#141414"/>
<ellipse cx="505" cy="243" rx="6" ry="2" transform="rotate(0 505 243)" fill="url(#gBlue)" filter="url(#fS)"/>
<ellipse cx="491" cy="249" rx="1.5" ry="1.5" transform="rotate(0 491 249)" fill="url(#gPurple)" filter="url(#fS)"/>
<ellipse cx="512" cy="251" rx="4.5" ry="6.5" transform="rotate(-20 512 251)" fill="url(#gMulti)" filter="url(#fS)"/>
<line x1="503.9" y1="255" x2="503.9" y2="275" stroke="#f02020" stroke-width="0.75"/>
<ellipse cx="491.7" cy="250.7" rx="7" ry="7" fill="none" stroke="#f01c1c" stroke-width="1.25"/>
<ellipse cx="515" cy="251.3" rx="7.3" ry="7.3" fill="none" stroke="#f01c1c" stroke-width="1.25"/>
<ellipse cx="503.9" cy="262.4" rx="7" ry="7" fill="none" stroke="#f01c1c" stroke-width="1.25"/>
<rect x="495.7" y="253.7" width="2.6" height="2.6" fill="#f01010"/>
<rect x="509.7" y="253.7" width="2.6" height="2.6" fill="#f01010"/>
<rect x="495.7" y="269.2" width="2.6" height="2.6" fill="#f01010"/>
<rect x="509.7" y="269.2" width="2.6" height="2.6" fill="#f01010"/>
</g>
<clipPath id="c19"><rect x="532.9" y="236.8" width="62.200000000000045" height="38.19999999999999"/></clipPath>
<g clip-path="url(#c19)">
<rect x="532.9" y="236.8" width="62.200000000000045" height="38.19999999999999" fill="#121212"/>
<rect x="536" y="240" width="56" height="33" fill="#363636" stroke="#4c4c4c" stroke-width="0.6"/>
<polygon points="536,273.5 538,265 542,255 549,242 580,242 587,255 591,265 593,273.5" fill="url(#gHead)" filter="url(#fB)"/>
<ellipse cx="551" cy="249" rx="6" ry="6" fill="url(#gDark)"/>
<ellipse cx="573" cy="248" rx="5" ry="6" fill="url(#gDark)"/>
<rect x="532.9" y="273.5" width="62.200000000000045" height="1.5" fill="#141414"/>
<ellipse cx="566" cy="246" rx="11" ry="5" transform="rotate(0 566 246)" fill="url(#gBlue)" filter="url(#fS)"/>
<ellipse cx="562" cy="244" rx="5" ry="3" transform="rotate(0 562 244)" fill="url(#gGreen)" filter="url(#fS)"/>
<ellipse cx="556" cy="250" rx="2.5" ry="5" transform="rotate(0 556 250)" fill="url(#gBlue)" filter="url(#fS)"/>
<ellipse cx="575" cy="249" rx="4" ry="5.5" transform="rotate(0 575 249)" fill="url(#gGreen)" filter="url(#fS)"/>
<ellipse cx="560" cy="258" rx="2" ry="4" transform="rotate(0 560 258)" fill="url(#gBlue)" filter="url(#fS)"/>
<ellipse cx="545" cy="272" rx="4" ry="2.5" transform="rotate(0 545 272)" fill="url(#gCyan)" filter="url(#fS)"/>
<ellipse cx="584" cy="271" rx="4" ry="2.5" transform="rotate(0 584 271)" fill="url(#gBlue)" filter="url(#fS)"/>
<line x1="564.3" y1="259" x2="564.3" y2="273" stroke="#f02020" stroke-width="0.75"/>
<ellipse cx="551.6" cy="248.5" rx="7" ry="7" fill="none" stroke="#f01c1c" stroke-width="1.25"/>
<ellipse cx="572.6" cy="248" rx="7" ry="7" fill="none" stroke="#f01c1c" stroke-width="1.25"/>
<ellipse cx="564.3" cy="265.7" rx="7" ry="7" fill="none" stroke="#f01c1c" stroke-width="1.25"/>
</g>
<clipPath id="c20"><rect x="595.1" y="236.8" width="70.89999999999998" height="38.19999999999999"/></clipPath>
<g clip-path="url(#c20)">
<rect x="595.1" y="236.8" width="70.89999999999998" height="38.19999999999999" fill="#080808"/>
<rect x="598" y="240" width="57.5" height="33" fill="#363636" stroke="#4c4c4c" stroke-width="0.6"/>
<polygon points="598,273.5 599,265 602,256 607,242 640,242 643,256 646,265 648,273.5" fill="url(#gHead)" filter="url(#fB)"/>
<rect x="595.1" y="273.5" width="70.89999999999998" height="1.5" fill="#141414"/>
<ellipse cx="629" cy="246" rx="13" ry="6.5" transform="rotate(0 629 246)" fill="url(#gMulti)" filter="url(#fS)"/>
<ellipse cx="612" cy="251" rx="3.5" ry="7" transform="rotate(25 612 251)" fill="url(#gCyan)" filter="url(#fS)"/>
<ellipse cx="638" cy="252" rx="3.5" ry="6.5" transform="rotate(-10 638 252)" fill="url(#gGreen)" filter="url(#fS)"/>
<rect x="644.3" y="265" width="11.2" height="8" fill="url(#gCyan)" filter="url(#fS)"/>
<line x1="625.2" y1="258" x2="625.2" y2="273" stroke="#f02020" stroke-width="0.75"/>
<ellipse cx="609.7" cy="250.7" rx="7.5" ry="7.5" fill="none" stroke="#f01c1c" stroke-width="1.25"/>
<ellipse cx="636.9" cy="253" rx="7.5" ry="7.5" fill="none" stroke="#f01c1c" stroke-width="1.25"/>
<ellipse cx="625.2" cy="265.1" rx="7" ry="7" fill="none" stroke="#f01c1c" stroke-width="1.25"/>
<rect x="616.7" y="256.2" width="2.6" height="2.6" fill="#f01010"/>
<rect x="631.2" y="256.2" width="2.6" height="2.6" fill="#f01010"/>
</g>
<path d="M38.6,87.8 L38.6,178.4 L163.6,178.4" fill="none" stroke="#4a4a4a" stroke-width="0.9"/>
<line x1="37.1" y1="178.4" x2="38.6" y2="178.4" stroke="#4a4a4a" stroke-width="0.8"/>
<text x="36.800000000000004" y="180.20000000000002" font-size="5.4" font-weight="bold" fill="#111" stroke="#111" stroke-width="0.08" text-anchor="end">0</text>
<line x1="37.1" y1="156" x2="38.6" y2="156" stroke="#4a4a4a" stroke-width="0.8"/>
<text x="36.800000000000004" y="157.8" font-size="5.4" font-weight="bold" fill="#111" stroke="#111" stroke-width="0.08" text-anchor="end">2×10<tspan dy="-1.8" font-size="3.8">7</tspan></text>
<line x1="37.1" y1="133.6" x2="38.6" y2="133.6" stroke="#4a4a4a" stroke-width="0.8"/>
<text x="36.800000000000004" y="135.4" font-size="5.4" font-weight="bold" fill="#111" stroke="#111" stroke-width="0.08" text-anchor="end">4×10<tspan dy="-1.8" font-size="3.8">7</tspan></text>
<line x1="37.1" y1="111.1" x2="38.6" y2="111.1" stroke="#4a4a4a" stroke-width="0.8"/>
<text x="36.800000000000004" y="112.89999999999999" font-size="5.4" font-weight="bold" fill="#111" stroke="#111" stroke-width="0.08" text-anchor="end">6×10<tspan dy="-1.8" font-size="3.8">7</tspan></text>
<line x1="37.1" y1="88.6" x2="38.6" y2="88.6" stroke="#4a4a4a" stroke-width="0.8"/>
<text x="36.800000000000004" y="90.39999999999999" font-size="5.4" font-weight="bold" fill="#111" stroke="#111" stroke-width="0.08" text-anchor="end">8×10<tspan dy="-1.8" font-size="3.8">7</tspan></text>
<line x1="50.3" y1="178.4" x2="50.3" y2="179.9" stroke="#4a4a4a" stroke-width="0.8"/>
<text x="50.3" y="185.3" font-size="4.7" font-weight="bold" fill="#111" stroke="#111" stroke-width="0.08" text-anchor="middle">Baseline</text>
<line x1="67.3" y1="178.4" x2="67.3" y2="179.9" stroke="#4a4a4a" stroke-width="0.8"/>
<text x="67.3" y="185.3" font-size="4.7" font-weight="bold" fill="#111" stroke="#111" stroke-width="0.08" text-anchor="middle">2</text>
<line x1="84.3" y1="178.4" x2="84.3" y2="179.9" stroke="#4a4a4a" stroke-width="0.8"/>
<text x="84.3" y="185.3" font-size="4.7" font-weight="bold" fill="#111" stroke="#111" stroke-width="0.08" text-anchor="middle">7</text>
<line x1="101.3" y1="178.4" x2="101.3" y2="179.9" stroke="#4a4a4a" stroke-width="0.8"/>
<text x="101.3" y="185.3" font-size="4.7" font-weight="bold" fill="#111" stroke="#111" stroke-width="0.08" text-anchor="middle">14</text>
<line x1="118.3" y1="178.4" x2="118.3" y2="179.9" stroke="#4a4a4a" stroke-width="0.8"/>
<text x="118.3" y="185.3" font-size="4.7" font-weight="bold" fill="#111" stroke="#111" stroke-width="0.08" text-anchor="middle">21</text>
<line x1="135.3" y1="178.4" x2="135.3" y2="179.9" stroke="#4a4a4a" stroke-width="0.8"/>
<text x="135.3" y="185.3" font-size="4.7" font-weight="bold" fill="#111" stroke="#111" stroke-width="0.08" text-anchor="middle">28</text>
<line x1="152.3" y1="178.4" x2="152.3" y2="179.9" stroke="#4a4a4a" stroke-width="0.8"/>
<text x="152.3" y="185.3" font-size="4.7" font-weight="bold" fill="#111" stroke="#111" stroke-width="0.08" text-anchor="middle">35</text>
<text x="101.2" y="194.6" font-size="7.4" font-weight="bold" fill="#111" text-anchor="middle" textLength="11.6" lengthAdjust="spacingAndGlyphs">Day</text>
<text x="13.2" y="130.2" font-size="12" font-weight="bold" fill="#1a1a1a" text-anchor="middle" textLength="23.5" lengthAdjust="spacingAndGlyphs" transform="rotate(-90 13.2 130.2)" dominant-baseline="central">Flux</text>
<line x1="44.3" y1="171.5" x2="56.3" y2="171.5" stroke="#f05050" stroke-width="0.8"/>
<line x1="44.3" y1="171" x2="56.3" y2="171" stroke="#3048ff" stroke-width="0.8"/>
<line x1="44.3" y1="173" x2="56.3" y2="173" stroke="#404040" stroke-width="0.8"/>
<line x1="61.2" y1="103.9" x2="73.2" y2="103.9" stroke="#f05050" stroke-width="0.8"/>
<line x1="61.2" y1="133.7" x2="73.2" y2="133.7" stroke="#3048ff" stroke-width="0.8"/>
<line x1="61.2" y1="148" x2="73.2" y2="148" stroke="#404040" stroke-width="0.8"/>
<line x1="78.2" y1="158" x2="90.2" y2="158" stroke="#f05050" stroke-width="0.8"/>
<line x1="78.2" y1="164.7" x2="90.2" y2="164.7" stroke="#3048ff" stroke-width="0.8"/>
<line x1="78.2" y1="171.3" x2="90.2" y2="171.3" stroke="#404040" stroke-width="0.8"/>
<line x1="95.3" y1="158" x2="107.3" y2="158" stroke="#f05050" stroke-width="0.8"/>
<line x1="95.3" y1="164.5" x2="107.3" y2="164.5" stroke="#3048ff" stroke-width="0.8"/>
<line x1="95.3" y1="170.7" x2="107.3" y2="170.7" stroke="#404040" stroke-width="0.8"/>
<line x1="112.2" y1="159.2" x2="124.2" y2="159.2" stroke="#f05050" stroke-width="0.8"/>
<line x1="112.2" y1="165.4" x2="124.2" y2="165.4" stroke="#3048ff" stroke-width="0.8"/>
<line x1="112.2" y1="170.7" x2="124.2" y2="170.7" stroke="#404040" stroke-width="0.8"/>
<line x1="129.4" y1="169.5" x2="141.4" y2="169.5" stroke="#f05050" stroke-width="0.8"/>
<line x1="129.4" y1="170.5" x2="141.4" y2="170.5" stroke="#3048ff" stroke-width="0.8"/>
<line x1="129.4" y1="172.6" x2="141.4" y2="172.6" stroke="#404040" stroke-width="0.8"/>
<line x1="146.3" y1="166.5" x2="158.3" y2="166.5" stroke="#f05050" stroke-width="0.8"/>
<line x1="146.3" y1="167.2" x2="158.3" y2="167.2" stroke="#3048ff" stroke-width="0.8"/>
<line x1="146.3" y1="170.5" x2="158.3" y2="170.5" stroke="#404040" stroke-width="0.8"/>
<circle cx="45.7" cy="170.6" r="1.55" fill="#e8242a"/>
<circle cx="45.7" cy="172.3" r="1.55" fill="#e8242a"/>
<rect x="48.6" y="167.4" width="3" height="3" fill="#1c2cff"/>
<rect x="47.4" y="169.6" width="3" height="3" fill="#1c2cff"/>
<rect x="53.3" y="169.8" width="3" height="3" fill="#1c2cff"/>
<path d="M48.8,174.5 L52.2,174.5 L50.5,171.6 Z" fill="#707070"/>
<path d="M51.3,174.5 L54.7,174.5 L53,171.6 Z" fill="#707070"/>
<circle cx="67.2" cy="90.9" r="1.55" fill="#e8242a"/>
<circle cx="67.2" cy="99.3" r="1.55" fill="#e8242a"/>
<circle cx="67.2" cy="108.7" r="1.55" fill="#e8242a"/>
<circle cx="67.2" cy="123" r="1.55" fill="#e8242a"/>
<rect x="63.099999999999994" y="129.8" width="3" height="3" fill="#1c2cff"/>
<rect x="67.9" y="127.9" width="3" height="3" fill="#1c2cff"/>
<rect x="65.9" y="134.4" width="3" height="3" fill="#1c2cff"/>
<rect x="65.9" y="140.9" width="3" height="3" fill="#1c2cff"/>
<path d="M60.3,149.8 L63.7,149.8 L62,146.9 Z" fill="#707070"/>
<path d="M65.3,147.8 L68.7,147.8 L67,144.9 Z" fill="#707070"/>
<path d="M70.3,148.8 L73.7,148.8 L72,145.9 Z" fill="#707070"/>
<path d="M65.3,153.9 L68.7,153.9 L67,151.0 Z" fill="#707070"/>
<circle cx="80.0" cy="159.5" r="1.55" fill="#e8242a"/>
<circle cx="83.2" cy="158" r="1.55" fill="#e8242a"/>
<circle cx="86.4" cy="158" r="1.55" fill="#e8242a"/>
<circle cx="89.6" cy="158" r="1.55" fill="#e8242a"/>
<rect x="78.5" y="164.7" width="3" height="3" fill="#1c2cff"/>
<rect x="81.7" y="163.2" width="3" height="3" fill="#1c2cff"/>
<rect x="84.9" y="163.2" width="3" height="3" fill="#1c2cff"/>
<rect x="88.1" y="163.2" width="3" height="3" fill="#1c2cff"/>
<path d="M78.3,172.60000000000002 L81.7,172.60000000000002 L80.0,169.70000000000002 Z" fill="#707070"/>
<path d="M81.5,172.60000000000002 L84.9,172.60000000000002 L83.2,169.70000000000002 Z" fill="#707070"/>
<path d="M84.7,172.60000000000002 L88.10000000000001,172.60000000000002 L86.4,169.70000000000002 Z" fill="#707070"/>
<path d="M87.89999999999999,172.60000000000002 L91.3,172.60000000000002 L89.6,169.70000000000002 Z" fill="#707070"/>
<circle cx="97.0" cy="159.5" r="1.55" fill="#e8242a"/>
<circle cx="100.2" cy="158" r="1.55" fill="#e8242a"/>
<circle cx="103.4" cy="158" r="1.55" fill="#e8242a"/>
<circle cx="106.6" cy="158" r="1.55" fill="#e8242a"/>
<rect x="95.5" y="164.5" width="3" height="3" fill="#1c2cff"/>
<rect x="98.7" y="163.0" width="3" height="3" fill="#1c2cff"/>
<rect x="101.9" y="163.0" width="3" height="3" fill="#1c2cff"/>
<rect x="105.1" y="163.0" width="3" height="3" fill="#1c2cff"/>
<path d="M95.3,173.3 L98.7,173.3 L97.0,170.4 Z" fill="#707070"/>
<path d="M98.5,171.8 L101.9,171.8 L100.2,168.9 Z" fill="#707070"/>
<path d="M101.7,171.8 L105.10000000000001,171.8 L103.4,168.9 Z" fill="#707070"/>
<path d="M104.89999999999999,171.8 L108.3,171.8 L106.6,168.9 Z" fill="#707070"/>
<circle cx="113.5" cy="160" r="1.55" fill="#e8242a"/>
<circle cx="116.6" cy="158.9" r="1.55" fill="#e8242a"/>
<circle cx="119" cy="156.8" r="1.55" fill="#e8242a"/>
<circle cx="119" cy="160.8" r="1.55" fill="#e8242a"/>
<rect x="112.0" y="167.0" width="3" height="3" fill="#1c2cff"/>
<rect x="115.1" y="163.9" width="3" height="3" fill="#1c2cff"/>
<rect x="118.2" y="162.3" width="3" height="3" fill="#1c2cff"/>
<rect x="120.0" y="163.5" width="3" height="3" fill="#1c2cff"/>
<path d="M111.8,173.8 L115.2,173.8 L113.5,170.9 Z" fill="#707070"/>
<path d="M116.3,172.10000000000002 L119.7,172.10000000000002 L118,169.20000000000002 Z" fill="#707070"/>
<path d="M120.3,171.8 L123.7,171.8 L122,168.9 Z" fill="#707070"/>
<rect x="129.5" y="169.0" width="3" height="3" fill="#1c2cff"/>
<rect x="132.5" y="170.0" width="3" height="3" fill="#1c2cff"/>
<rect x="135.5" y="169.0" width="3" height="3" fill="#1c2cff"/>
<rect x="138.5" y="169.5" width="3" height="3" fill="#1c2cff"/>
<circle cx="130.4" cy="169" r="1.55" fill="#e8242a"/>
<circle cx="137.2" cy="167.5" r="1.55" fill="#e8242a"/>
<circle cx="137.2" cy="171.1" r="1.55" fill="#e8242a"/>
<path d="M130.3,174.3 L133.7,174.3 L132,171.4 Z" fill="#707070"/>
<path d="M136.3,174.3 L139.7,174.3 L138,171.4 Z" fill="#707070"/>
<rect x="146.5" y="166.0" width="3" height="3" fill="#1c2cff"/>
<rect x="149.5" y="165.3" width="3" height="3" fill="#1c2cff"/>
<rect x="152.5" y="166.3" width="3" height="3" fill="#1c2cff"/>
<rect x="155.5" y="165.5" width="3" height="3" fill="#1c2cff"/>
<circle cx="147.6" cy="165.4" r="1.55" fill="#e8242a"/>
<circle cx="150.6" cy="165.4" r="1.55" fill="#e8242a"/>
<circle cx="156" cy="166.6" r="1.55" fill="#e8242a"/>
<path d="M147.3,171.8 L150.7,171.8 L149,168.9 Z" fill="#707070"/>
<path d="M153.3,171.8 L156.7,171.8 L155,168.9 Z" fill="#707070"/>
<circle cx="111.6" cy="93" r="1.7" fill="#e8242a"/>
<rect x="110.1" y="101.7" width="3" height="3" fill="#1c2cff"/>
<path d="M110.3,114.6 L112.9,114.6 L111.6,112.3 Z" fill="#808080"/>
<text x="119.70" y="95.40" font-size="7.4" text-anchor="start" font-weight="normal" fill="#222" stroke="#222" stroke-width="0.22" textLength="47.00" lengthAdjust="spacingAndGlyphs" >ROI Right Eye</text>
<text x="119.70" y="105.60" font-size="7.4" text-anchor="start" font-weight="normal" fill="#222" stroke="#222" stroke-width="0.22" textLength="42.50" lengthAdjust="spacingAndGlyphs" >ROI Left Eye</text>
<text x="119.70" y="115.70" font-size="7.4" text-anchor="start" font-weight="normal" fill="#222" stroke="#222" stroke-width="0.22" textLength="26.00" lengthAdjust="spacingAndGlyphs" >ROI Fur</text>
<path d="M194.3,89.5 L194.3,177.6 L323.7,177.6" fill="none" stroke="#4a4a4a" stroke-width="0.9"/>
<line x1="192.8" y1="177.6" x2="194.3" y2="177.6" stroke="#4a4a4a" stroke-width="0.8"/>
<text x="191.8" y="177.6" font-size="6" font-weight="bold" fill="#111" stroke="#111" stroke-width="0.08" text-anchor="middle" transform="rotate(-90 191.8 177.6)">0</text>
<line x1="192.8" y1="148.4" x2="194.3" y2="148.4" stroke="#4a4a4a" stroke-width="0.8"/>
<text x="191.8" y="148.4" font-size="6" font-weight="bold" fill="#111" stroke="#111" stroke-width="0.08" text-anchor="middle" transform="rotate(-90 191.8 148.4)">1</text>
<line x1="192.8" y1="119.4" x2="194.3" y2="119.4" stroke="#4a4a4a" stroke-width="0.8"/>
<text x="191.8" y="119.4" font-size="6" font-weight="bold" fill="#111" stroke="#111" stroke-width="0.08" text-anchor="middle" transform="rotate(-90 191.8 119.4)">2</text>
<line x1="192.8" y1="90.4" x2="194.3" y2="90.4" stroke="#4a4a4a" stroke-width="0.8"/>
<text x="191.8" y="90.4" font-size="6" font-weight="bold" fill="#111" stroke="#111" stroke-width="0.08" text-anchor="middle" transform="rotate(-90 191.8 90.4)">3</text>
<line x1="206.3" y1="177.6" x2="206.3" y2="179.1" stroke="#4a4a4a" stroke-width="0.8"/>
<text x="206.3" y="184.5" font-size="4.7" font-weight="bold" fill="#111" stroke="#111" stroke-width="0.08" text-anchor="middle">Baseline</text>
<line x1="223.8" y1="177.6" x2="223.8" y2="179.1" stroke="#4a4a4a" stroke-width="0.8"/>
<text x="223.8" y="184.5" font-size="4.7" font-weight="bold" fill="#111" stroke="#111" stroke-width="0.08" text-anchor="middle">2</text>
<line x1="241.3" y1="177.6" x2="241.3" y2="179.1" stroke="#4a4a4a" stroke-width="0.8"/>
<text x="241.3" y="184.5" font-size="4.7" font-weight="bold" fill="#111" stroke="#111" stroke-width="0.08" text-anchor="middle">7</text>
<line x1="258.8" y1="177.6" x2="258.8" y2="179.1" stroke="#4a4a4a" stroke-width="0.8"/>
<text x="258.8" y="184.5" font-size="4.7" font-weight="bold" fill="#111" stroke="#111" stroke-width="0.08" text-anchor="middle">14</text>
<line x1="276.3" y1="177.6" x2="276.3" y2="179.1" stroke="#4a4a4a" stroke-width="0.8"/>
<text x="276.3" y="184.5" font-size="4.7" font-weight="bold" fill="#111" stroke="#111" stroke-width="0.08" text-anchor="middle">21</text>
<line x1="293.8" y1="177.6" x2="293.8" y2="179.1" stroke="#4a4a4a" stroke-width="0.8"/>
<text x="293.8" y="184.5" font-size="4.7" font-weight="bold" fill="#111" stroke="#111" stroke-width="0.08" text-anchor="middle">28</text>
<line x1="311.3" y1="177.6" x2="311.3" y2="179.1" stroke="#4a4a4a" stroke-width="0.8"/>
<text x="311.3" y="184.5" font-size="4.7" font-weight="bold" fill="#111" stroke="#111" stroke-width="0.08" text-anchor="middle">35</text>
<text x="259.2" y="193.5" font-size="7.4" font-weight="bold" fill="#111" text-anchor="middle" textLength="12.8" lengthAdjust="spacingAndGlyphs">Day</text>
<text x="180" y="135.2" font-size="7.2" font-weight="bold" fill="#1a1a1a" text-anchor="middle" textLength="104.5" lengthAdjust="spacingAndGlyphs" transform="rotate(-90 180 135.2)" dominant-baseline="central">Relative Bioluminescence Ratio</text>
<line x1="200.3" y1="142.9" x2="212.3" y2="142.9" stroke="#f05050" stroke-width="0.8"/>
<line x1="218" y1="107.6" x2="230" y2="107.6" stroke="#f05050" stroke-width="0.8"/>
<line x1="218" y1="135" x2="230" y2="135" stroke="#3048ff" stroke-width="0.8"/>
<line x1="235.9" y1="96.5" x2="247.9" y2="96.5" stroke="#f05050" stroke-width="0.8"/>
<line x1="235.9" y1="122.5" x2="247.9" y2="122.5" stroke="#3048ff" stroke-width="0.8"/>
<line x1="253" y1="103" x2="265" y2="103" stroke="#f05050" stroke-width="0.8"/>
<line x1="253" y1="126.5" x2="265" y2="126.5" stroke="#3048ff" stroke-width="0.8"/>
<line x1="270.7" y1="107.9" x2="282.7" y2="107.9" stroke="#f05050" stroke-width="0.8"/>
<line x1="270.7" y1="127.8" x2="282.7" y2="127.8" stroke="#3048ff" stroke-width="0.8"/>
<line x1="288.3" y1="133.6" x2="300.3" y2="133.6" stroke="#f05050" stroke-width="0.8"/>
<line x1="288.3" y1="136.5" x2="300.3" y2="136.5" stroke="#3048ff" stroke-width="0.8"/>
<line x1="305.9" y1="135.4" x2="317.9" y2="135.4" stroke="#f05050" stroke-width="0.8"/>
<line x1="305.9" y1="138.5" x2="317.9" y2="138.5" stroke="#3048ff" stroke-width="0.8"/>
<rect x="200.5" y="137.7" width="3" height="3" fill="#1c2cff"/>
<rect x="209.2" y="135.3" width="3" height="3" fill="#1c2cff"/>
<rect x="209.2" y="139.0" width="3" height="3" fill="#1c2cff"/>
<rect x="205.0" y="151.9" width="3" height="3" fill="#1c2cff"/>
<circle cx="202" cy="144.5" r="1.55" fill="#e8242a"/>
<circle cx="206.5" cy="142.3" r="1.55" fill="#e8242a"/>
<circle cx="210.7" cy="144.5" r="1.55" fill="#e8242a"/>
<circle cx="206.5" cy="148.8" r="1.55" fill="#e8242a"/>
<circle cx="224" cy="98.3" r="1.55" fill="#e8242a"/>
<circle cx="224" cy="105" r="1.55" fill="#e8242a"/>
<circle cx="224" cy="110" r="1.55" fill="#e8242a"/>
<circle cx="224" cy="116.4" r="1.55" fill="#e8242a"/>
<rect x="218.1" y="135.8" width="3" height="3" fill="#1c2cff"/>
<rect x="222.2" y="133.0" width="3" height="3" fill="#1c2cff"/>
<rect x="226.8" y="131.2" width="3" height="3" fill="#1c2cff"/>
<rect x="226.8" y="134.7" width="3" height="3" fill="#1c2cff"/>
<circle cx="237" cy="97.8" r="1.55" fill="#e8242a"/>
<circle cx="240.3" cy="96.1" r="1.55" fill="#e8242a"/>
<circle cx="243.6" cy="96.1" r="1.55" fill="#e8242a"/>
<circle cx="246.9" cy="96.1" r="1.55" fill="#e8242a"/>
<rect x="235.5" y="122.0" width="3" height="3" fill="#1c2cff"/>
<rect x="238.8" y="121.0" width="3" height="3" fill="#1c2cff"/>
<rect x="242.1" y="121.0" width="3" height="3" fill="#1c2cff"/>
<rect x="245.4" y="121.0" width="3" height="3" fill="#1c2cff"/>
<circle cx="254.5" cy="100.7" r="1.55" fill="#e8242a"/>
<circle cx="254.5" cy="106.8" r="1.55" fill="#e8242a"/>
<circle cx="263.4" cy="100" r="1.55" fill="#e8242a"/>
<circle cx="263.4" cy="106.5" r="1.55" fill="#e8242a"/>
<rect x="253.0" y="127.30000000000001" width="3" height="3" fill="#1c2cff"/>
<rect x="257.3" y="123.8" width="3" height="3" fill="#1c2cff"/>
<rect x="261.9" y="121.4" width="3" height="3" fill="#1c2cff"/>
<rect x="261.9" y="127.0" width="3" height="3" fill="#1c2cff"/>
<circle cx="272.5" cy="109.2" r="1.55" fill="#e8242a"/>
<circle cx="276.9" cy="106.5" r="1.55" fill="#e8242a"/>
<circle cx="281" cy="104.8" r="1.55" fill="#e8242a"/>
<circle cx="281" cy="108.6" r="1.55" fill="#e8242a"/>
<rect x="271.0" y="124.7" width="3" height="3" fill="#1c2cff"/>
<rect x="271.0" y="129.0" width="3" height="3" fill="#1c2cff"/>
<rect x="279.5" y="124.0" width="3" height="3" fill="#1c2cff"/>
<rect x="279.5" y="127.4" width="3" height="3" fill="#1c2cff"/>
<circle cx="290" cy="133.6" r="1.55" fill="#e8242a"/>
<circle cx="294.1" cy="129.1" r="1.55" fill="#e8242a"/>
<circle cx="295.1" cy="135.9" r="1.55" fill="#e8242a"/>
<circle cx="298.6" cy="135.9" r="1.55" fill="#e8242a"/>
<rect x="288.5" y="136.2" width="3" height="3" fill="#1c2cff"/>
<rect x="290.6" y="134.2" width="3" height="3" fill="#1c2cff"/>
<rect x="297.1" y="136.2" width="3" height="3" fill="#1c2cff"/>
<circle cx="307.7" cy="134.3" r="1.55" fill="#e8242a"/>
<circle cx="310.4" cy="135.4" r="1.55" fill="#e8242a"/>
<circle cx="316.2" cy="132.9" r="1.55" fill="#e8242a"/>
<circle cx="316.2" cy="137.7" r="1.55" fill="#e8242a"/>
<rect x="306.2" y="136.6" width="3" height="3" fill="#1c2cff"/>
<rect x="312.0" y="138.2" width="3" height="3" fill="#1c2cff"/>
<rect x="308.9" y="141.2" width="3" height="3" fill="#1c2cff"/>
<rect x="314.7" y="134.2" width="3" height="3" fill="#1c2cff"/>
<circle cx="296.6" cy="87.2" r="1.7" fill="#e8242a"/>
<rect x="295.1" y="97.7" width="3" height="3" fill="#1c2cff"/>
<text x="303.20" y="89.90" font-size="7.4" text-anchor="start" font-weight="normal" fill="#222" stroke="#222" stroke-width="0.22" textLength="32.00" lengthAdjust="spacingAndGlyphs" >Right Eye</text>
<text x="303.20" y="101.90" font-size="7.4" text-anchor="start" font-weight="normal" fill="#222" stroke="#222" stroke-width="0.22" textLength="28.50" lengthAdjust="spacingAndGlyphs" >Left Eye</text>
<path d="M372.9,85.5 L372.9,178.9 L504.7,178.9" fill="none" stroke="#4a4a4a" stroke-width="0.9"/>
<line x1="371.4" y1="178.9" x2="372.9" y2="178.9" stroke="#4a4a4a" stroke-width="0.8"/>
<text x="371.09999999999997" y="180.70000000000002" font-size="5.4" font-weight="bold" fill="#111" stroke="#111" stroke-width="0.08" text-anchor="end">0</text>
<line x1="371.4" y1="154.8" x2="372.9" y2="154.8" stroke="#4a4a4a" stroke-width="0.8"/>
<text x="371.09999999999997" y="156.60000000000002" font-size="5.4" font-weight="bold" fill="#111" stroke="#111" stroke-width="0.08" text-anchor="end">2×10<tspan dy="-1.8" font-size="3.8">5</tspan></text>
<line x1="371.4" y1="131.8" x2="372.9" y2="131.8" stroke="#4a4a4a" stroke-width="0.8"/>
<text x="371.09999999999997" y="133.60000000000002" font-size="5.4" font-weight="bold" fill="#111" stroke="#111" stroke-width="0.08" text-anchor="end">4×10<tspan dy="-1.8" font-size="3.8">5</tspan></text>
<line x1="371.4" y1="108.8" x2="372.9" y2="108.8" stroke="#4a4a4a" stroke-width="0.8"/>
<text x="371.09999999999997" y="110.6" font-size="5.4" font-weight="bold" fill="#111" stroke="#111" stroke-width="0.08" text-anchor="end">6×10<tspan dy="-1.8" font-size="3.8">5</tspan></text>
<line x1="371.4" y1="85.9" x2="372.9" y2="85.9" stroke="#4a4a4a" stroke-width="0.8"/>
<text x="371.09999999999997" y="87.7" font-size="5.4" font-weight="bold" fill="#111" stroke="#111" stroke-width="0.08" text-anchor="end">8×10<tspan dy="-1.8" font-size="3.8">5</tspan></text>
<line x1="385.0" y1="178.9" x2="385.0" y2="180.4" stroke="#4a4a4a" stroke-width="0.8"/>
<text x="385.0" y="185.8" font-size="4.7" font-weight="bold" fill="#111" stroke="#111" stroke-width="0.08" text-anchor="middle">Baseline</text>
<line x1="403.1" y1="178.9" x2="403.1" y2="180.4" stroke="#4a4a4a" stroke-width="0.8"/>
<text x="403.1" y="185.8" font-size="4.7" font-weight="bold" fill="#111" stroke="#111" stroke-width="0.08" text-anchor="middle">2</text>
<line x1="421.2" y1="178.9" x2="421.2" y2="180.4" stroke="#4a4a4a" stroke-width="0.8"/>
<text x="421.2" y="185.8" font-size="4.7" font-weight="bold" fill="#111" stroke="#111" stroke-width="0.08" text-anchor="middle">7</text>
<line x1="439.3" y1="178.9" x2="439.3" y2="180.4" stroke="#4a4a4a" stroke-width="0.8"/>
<text x="439.3" y="185.8" font-size="4.7" font-weight="bold" fill="#111" stroke="#111" stroke-width="0.08" text-anchor="middle">14</text>
<line x1="457.4" y1="178.9" x2="457.4" y2="180.4" stroke="#4a4a4a" stroke-width="0.8"/>
<text x="457.4" y="185.8" font-size="4.7" font-weight="bold" fill="#111" stroke="#111" stroke-width="0.08" text-anchor="middle">21</text>
<line x1="475.5" y1="178.9" x2="475.5" y2="180.4" stroke="#4a4a4a" stroke-width="0.8"/>
<text x="475.5" y="185.8" font-size="4.7" font-weight="bold" fill="#111" stroke="#111" stroke-width="0.08" text-anchor="middle">28</text>
<line x1="493.6" y1="178.9" x2="493.6" y2="180.4" stroke="#4a4a4a" stroke-width="0.8"/>
<text x="493.6" y="185.8" font-size="4.7" font-weight="bold" fill="#111" stroke="#111" stroke-width="0.08" text-anchor="middle">35</text>
<text x="439.2" y="193.2" font-size="7.4" font-weight="bold" fill="#111" text-anchor="middle" textLength="11.9" lengthAdjust="spacingAndGlyphs">Day</text>
<text x="347.8" y="131" font-size="12" font-weight="bold" fill="#1a1a1a" text-anchor="middle" textLength="23.8" lengthAdjust="spacingAndGlyphs" transform="rotate(-90 347.8 131)" dominant-baseline="central">Flux</text>
<line x1="379" y1="131.4" x2="391" y2="131.4" stroke="#f05050" stroke-width="0.8"/>
<line x1="379" y1="141" x2="391" y2="141" stroke="#3048ff" stroke-width="0.8"/>
<line x1="379" y1="161.4" x2="391" y2="161.4" stroke="#404040" stroke-width="0.8"/>
<line x1="397.1" y1="153" x2="409.1" y2="153" stroke="#f05050" stroke-width="0.8"/>
<line x1="397.1" y1="158.2" x2="409.1" y2="158.2" stroke="#3048ff" stroke-width="0.8"/>
<line x1="397.1" y1="163.8" x2="409.1" y2="163.8" stroke="#404040" stroke-width="0.8"/>
<line x1="415.2" y1="112.4" x2="427.2" y2="112.4" stroke="#f05050" stroke-width="0.8"/>
<line x1="415.2" y1="139.5" x2="427.2" y2="139.5" stroke="#3048ff" stroke-width="0.8"/>
<line x1="415.2" y1="165" x2="427.2" y2="165" stroke="#404040" stroke-width="0.8"/>
<line x1="433.3" y1="118.5" x2="445.3" y2="118.5" stroke="#f05050" stroke-width="0.8"/>
<line x1="433.3" y1="141" x2="445.3" y2="141" stroke="#3048ff" stroke-width="0.8"/>
<line x1="433.3" y1="162.8" x2="445.3" y2="162.8" stroke="#404040" stroke-width="0.8"/>
<line x1="451.4" y1="122.2" x2="463.4" y2="122.2" stroke="#f05050" stroke-width="0.8"/>
<line x1="451.4" y1="122.5" x2="463.4" y2="122.5" stroke="#3048ff" stroke-width="0.8"/>
<line x1="451.4" y1="157.7" x2="463.4" y2="157.7" stroke="#404040" stroke-width="0.8"/>
<line x1="469.5" y1="147" x2="481.5" y2="147" stroke="#f05050" stroke-width="0.8"/>
<line x1="469.5" y1="149" x2="481.5" y2="149" stroke="#3048ff" stroke-width="0.8"/>
<line x1="469.5" y1="166.2" x2="481.5" y2="166.2" stroke="#404040" stroke-width="0.8"/>
<line x1="487.6" y1="134" x2="499.6" y2="134" stroke="#f05050" stroke-width="0.8"/>
<line x1="487.6" y1="144.4" x2="499.6" y2="144.4" stroke="#3048ff" stroke-width="0.8"/>
<line x1="487.6" y1="162.5" x2="499.6" y2="162.5" stroke="#404040" stroke-width="0.8"/>
<circle cx="385.2" cy="126.8" r="1.55" fill="#e8242a"/>
<circle cx="385.2" cy="131.4" r="1.55" fill="#e8242a"/>
<circle cx="388" cy="135.1" r="1.55" fill="#e8242a"/>
<rect x="380.9" y="135.5" width="3" height="3" fill="#1c2cff"/>
<rect x="383.7" y="140.6" width="3" height="3" fill="#1c2cff"/>
<rect x="383.7" y="142.5" width="3" height="3" fill="#1c2cff"/>
<path d="M378.3,163.8 L381.7,163.8 L380,160.9 Z" fill="#707070"/>
<path d="M383.3,161.3 L386.7,161.3 L385,158.4 Z" fill="#707070"/>
<path d="M388.3,162.8 L391.7,162.8 L390,159.9 Z" fill="#707070"/>
<circle cx="403" cy="141.6" r="1.55" fill="#e8242a"/>
<rect x="401.5" y="148.4" width="3" height="3" fill="#1c2cff"/>
<circle cx="403.1" cy="153" r="1.55" fill="#e8242a"/>
<rect x="404.0" y="156.7" width="3" height="3" fill="#1c2cff"/>
<circle cx="400.5" cy="162.8" r="1.55" fill="#e8242a"/>
<rect x="399.0" y="164.1" width="3" height="3" fill="#1c2cff"/>
<path d="M398.3,161.3 L401.7,161.3 L400,158.4 Z" fill="#707070"/>
<path d="M401.3,170.60000000000002 L404.7,170.60000000000002 L403,167.70000000000002 Z" fill="#707070"/>
<circle cx="421.2" cy="107.8" r="1.55" fill="#e8242a"/>
<circle cx="418.4" cy="112.4" r="1.55" fill="#e8242a"/>
<circle cx="424" cy="111" r="1.55" fill="#e8242a"/>
<circle cx="421.2" cy="117" r="1.55" fill="#e8242a"/>
<rect x="416.9" y="136.9" width="3" height="3" fill="#1c2cff"/>
<rect x="422.5" y="136.9" width="3" height="3" fill="#1c2cff"/>
<rect x="416.9" y="141.4" width="3" height="3" fill="#1c2cff"/>
<rect x="422.5" y="140.5" width="3" height="3" fill="#1c2cff"/>
<path d="M414.3,167.8 L417.7,167.8 L416,164.9 Z" fill="#707070"/>
<path d="M419.3,165.8 L422.7,165.8 L421,162.9 Z" fill="#707070"/>
<path d="M424.3,165.8 L427.7,165.8 L426,162.9 Z" fill="#707070"/>
<circle cx="439.3" cy="111.5" r="1.55" fill="#e8242a"/>
<circle cx="439.3" cy="121.8" r="1.55" fill="#e8242a"/>
<circle cx="439.3" cy="125.9" r="1.55" fill="#e8242a"/>
<rect x="434.5" y="138.2" width="3" height="3" fill="#1c2cff"/>
<rect x="440.5" y="137.5" width="3" height="3" fill="#1c2cff"/>
<rect x="437.5" y="147.1" width="3" height="3" fill="#1c2cff"/>
<path d="M432.3,164.8 L435.7,164.8 L434,161.9 Z" fill="#707070"/>
<path d="M437.3,163.3 L440.7,163.3 L439,160.4 Z" fill="#707070"/>
<path d="M442.3,163.8 L445.7,163.8 L444,160.9 Z" fill="#707070"/>
<circle cx="457.6" cy="116.6" r="1.55" fill="#e8242a"/>
<circle cx="462.2" cy="120" r="1.55" fill="#e8242a"/>
<circle cx="462.2" cy="124" r="1.55" fill="#e8242a"/>
<circle cx="457.6" cy="129.2" r="1.55" fill="#e8242a"/>
<rect x="451.1" y="117.9" width="3" height="3" fill="#1c2cff"/>
<rect x="451.1" y="123.5" width="3" height="3" fill="#1c2cff"/>
<rect x="456.1" y="120.3" width="3" height="3" fill="#1c2cff"/>
<rect x="456.1" y="130.8" width="3" height="3" fill="#1c2cff"/>
<path d="M450.3,161.3 L453.7,161.3 L452,158.4 Z" fill="#707070"/>
<path d="M455.3,158.3 L458.7,158.3 L457,155.4 Z" fill="#707070"/>
<path d="M460.3,157.3 L463.7,157.3 L462,154.4 Z" fill="#707070"/>
<circle cx="470.5" cy="146.6" r="1.55" fill="#e8242a"/>
<circle cx="477" cy="146.6" r="1.55" fill="#e8242a"/>
<circle cx="480.3" cy="146" r="1.55" fill="#e8242a"/>
<circle cx="480.3" cy="149.5" r="1.55" fill="#e8242a"/>
<rect x="469.0" y="148.0" width="3" height="3" fill="#1c2cff"/>
<rect x="474.0" y="146.2" width="3" height="3" fill="#1c2cff"/>
<rect x="478.8" y="149.5" width="3" height="3" fill="#1c2cff"/>
<rect x="474.0" y="151.2" width="3" height="3" fill="#1c2cff"/>
<path d="M468.8,168.3 L472.2,168.3 L470.5,165.4 Z" fill="#707070"/>
<path d="M473.8,167.3 L477.2,167.3 L475.5,164.4 Z" fill="#707070"/>
<path d="M478.8,167.3 L482.2,167.3 L480.5,164.4 Z" fill="#707070"/>
<circle cx="488.4" cy="134.2" r="1.55" fill="#e8242a"/>
<circle cx="493.6" cy="132.3" r="1.55" fill="#e8242a"/>
<circle cx="498.2" cy="133.3" r="1.55" fill="#e8242a"/>
<circle cx="493.6" cy="140.7" r="1.55" fill="#e8242a"/>
<rect x="486.9" y="142.9" width="3" height="3" fill="#1c2cff"/>
<rect x="492.1" y="141.9" width="3" height="3" fill="#1c2cff"/>
<rect x="496.7" y="142.9" width="3" height="3" fill="#1c2cff"/>
<rect x="492.1" y="150.8" width="3" height="3" fill="#1c2cff"/>
<path d="M486.8,164.3 L490.2,164.3 L488.5,161.4 Z" fill="#707070"/>
<path d="M491.8,163.3 L495.2,163.3 L493.5,160.4 Z" fill="#707070"/>
<path d="M496.8,163.8 L500.2,163.8 L498.5,160.9 Z" fill="#707070"/>
<path d="M528.3,90.5 L528.3,178.9 L658.6,178.9" fill="none" stroke="#4a4a4a" stroke-width="0.9"/>
<line x1="526.8" y1="178.9" x2="528.3" y2="178.9" stroke="#4a4a4a" stroke-width="0.8"/>
<text x="526.5" y="180.70000000000002" font-size="5.4" font-weight="bold" fill="#111" stroke="#111" stroke-width="0.08" text-anchor="end">0</text>
<line x1="526.8" y1="149.3" x2="528.3" y2="149.3" stroke="#4a4a4a" stroke-width="0.8"/>
<text x="526.5" y="151.10000000000002" font-size="5.4" font-weight="bold" fill="#111" stroke="#111" stroke-width="0.08" text-anchor="end">2</text>
<line x1="526.8" y1="120.4" x2="528.3" y2="120.4" stroke="#4a4a4a" stroke-width="0.8"/>
<text x="526.5" y="122.2" font-size="5.4" font-weight="bold" fill="#111" stroke="#111" stroke-width="0.08" text-anchor="end">4</text>
<line x1="526.8" y1="91.2" x2="528.3" y2="91.2" stroke="#4a4a4a" stroke-width="0.8"/>
<text x="526.5" y="93.0" font-size="5.4" font-weight="bold" fill="#111" stroke="#111" stroke-width="0.08" text-anchor="end">6</text>
<line x1="540.4" y1="178.9" x2="540.4" y2="180.4" stroke="#4a4a4a" stroke-width="0.8"/>
<text x="540.4" y="185.8" font-size="4.7" font-weight="bold" fill="#111" stroke="#111" stroke-width="0.08" text-anchor="middle">Baseline</text>
<line x1="558.0799999999999" y1="178.9" x2="558.0799999999999" y2="180.4" stroke="#4a4a4a" stroke-width="0.8"/>
<text x="558.0799999999999" y="185.8" font-size="4.7" font-weight="bold" fill="#111" stroke="#111" stroke-width="0.08" text-anchor="middle">2</text>
<line x1="575.76" y1="178.9" x2="575.76" y2="180.4" stroke="#4a4a4a" stroke-width="0.8"/>
<text x="575.76" y="185.8" font-size="4.7" font-weight="bold" fill="#111" stroke="#111" stroke-width="0.08" text-anchor="middle">7</text>
<line x1="593.4399999999999" y1="178.9" x2="593.4399999999999" y2="180.4" stroke="#4a4a4a" stroke-width="0.8"/>
<text x="593.4399999999999" y="185.8" font-size="4.7" font-weight="bold" fill="#111" stroke="#111" stroke-width="0.08" text-anchor="middle">14</text>
<line x1="611.12" y1="178.9" x2="611.12" y2="180.4" stroke="#4a4a4a" stroke-width="0.8"/>
<text x="611.12" y="185.8" font-size="4.7" font-weight="bold" fill="#111" stroke="#111" stroke-width="0.08" text-anchor="middle">21</text>
<line x1="628.8" y1="178.9" x2="628.8" y2="180.4" stroke="#4a4a4a" stroke-width="0.8"/>
<text x="628.8" y="185.8" font-size="4.7" font-weight="bold" fill="#111" stroke="#111" stroke-width="0.08" text-anchor="middle">28</text>
<line x1="646.48" y1="178.9" x2="646.48" y2="180.4" stroke="#4a4a4a" stroke-width="0.8"/>
<text x="646.48" y="185.8" font-size="4.7" font-weight="bold" fill="#111" stroke="#111" stroke-width="0.08" text-anchor="middle">35</text>
<text x="593.5" y="193.7" font-size="7.4" font-weight="bold" fill="#111" text-anchor="middle" textLength="12.5" lengthAdjust="spacingAndGlyphs">Day</text>
<text x="513.3" y="139.7" font-size="7" font-weight="bold" fill="#1a1a1a" text-anchor="middle" textLength="101.8" lengthAdjust="spacingAndGlyphs" transform="rotate(-90 513.3 139.7)" dominant-baseline="central">Relative Bioluminescence Ratio</text>
<line x1="534.4" y1="146" x2="546.4" y2="146" stroke="#f05050" stroke-width="0.8"/>
<line x1="552.1" y1="153.4" x2="564.1" y2="153.4" stroke="#f05050" stroke-width="0.8"/>
<line x1="570.1" y1="105.2" x2="582.1" y2="105.2" stroke="#f05050" stroke-width="0.8"/>
<line x1="587.8" y1="124.2" x2="599.8" y2="124.2" stroke="#f05050" stroke-width="0.8"/>
<line x1="587.8" y1="145.1" x2="599.8" y2="145.1" stroke="#3048ff" stroke-width="0.8"/>
<line x1="605.2" y1="139" x2="617.2" y2="139" stroke="#f05050" stroke-width="0.8"/>
<line x1="622.3" y1="141" x2="634.3" y2="141" stroke="#f05050" stroke-width="0.8"/>
<line x1="622.3" y1="144" x2="634.3" y2="144" stroke="#3048ff" stroke-width="0.8"/>
<line x1="639.1" y1="141" x2="651.1" y2="141" stroke="#f05050" stroke-width="0.8"/>
<line x1="639.1" y1="150.2" x2="651.1" y2="150.2" stroke="#3048ff" stroke-width="0.8"/>
<circle cx="536.5" cy="145.1" r="1.55" fill="#e8242a"/>
<circle cx="536.5" cy="148.8" r="1.55" fill="#e8242a"/>
<circle cx="544.8" cy="145.1" r="1.55" fill="#e8242a"/>
<rect x="535.0" y="152.3" width="3" height="3" fill="#1c2cff"/>
<rect x="539.0" y="150.4" width="3" height="3" fill="#1c2cff"/>
<rect x="543.3" y="151.3" width="3" height="3" fill="#1c2cff"/>
<circle cx="554" cy="151" r="1.55" fill="#e8242a"/>
<circle cx="554" cy="155.6" r="1.55" fill="#e8242a"/>
<circle cx="562.9" cy="153.4" r="1.55" fill="#e8242a"/>
<rect x="552.5" y="158.7" width="3" height="3" fill="#1c2cff"/>
<rect x="557.2" y="156.0" width="3" height="3" fill="#1c2cff"/>
<rect x="561.4" y="156.9" width="3" height="3" fill="#1c2cff"/>
<circle cx="571.6" cy="101.5" r="1.55" fill="#e8242a"/>
<circle cx="571.6" cy="105.2" r="1.55" fill="#e8242a"/>
<circle cx="580.3" cy="104.3" r="1.55" fill="#e8242a"/>
<circle cx="575.8" cy="109.4" r="1.55" fill="#e8242a"/>
<rect x="570.1" y="135.3" width="3" height="3" fill="#1c2cff"/>
<rect x="574.3" y="132.5" width="3" height="3" fill="#1c2cff"/>
<rect x="578.8" y="134.3" width="3" height="3" fill="#1c2cff"/>
<rect x="576.2" y="135.1" width="3" height="3" fill="#1c2cff"/>
<circle cx="589.1" cy="119.6" r="1.55" fill="#e8242a"/>
<circle cx="589.1" cy="124.2" r="1.55" fill="#e8242a"/>
<circle cx="598" cy="121.4" r="1.55" fill="#e8242a"/>
<circle cx="593.8" cy="130.3" r="1.55" fill="#e8242a"/>
<rect x="587.6" y="139.3" width="3" height="3" fill="#1c2cff"/>
<rect x="587.6" y="144.9" width="3" height="3" fill="#1c2cff"/>
<rect x="596.5" y="142.1" width="3" height="3" fill="#1c2cff"/>
<rect x="592.3" y="149.5" width="3" height="3" fill="#1c2cff"/>
<circle cx="607.4" cy="134.8" r="1.55" fill="#e8242a"/>
<circle cx="611.7" cy="137" r="1.55" fill="#e8242a"/>
<circle cx="615.8" cy="139.7" r="1.55" fill="#e8242a"/>
<circle cx="615.8" cy="144.6" r="1.55" fill="#e8242a"/>
<rect x="605.9" y="137.0" width="3" height="3" fill="#1c2cff"/>
<rect x="610.2" y="140.4" width="3" height="3" fill="#1c2cff"/>
<rect x="614.3" y="134.3" width="3" height="3" fill="#1c2cff"/>
<rect x="605.9" y="145.0" width="3" height="3" fill="#1c2cff"/>
<circle cx="624.6" cy="139.7" r="1.55" fill="#e8242a"/>
<circle cx="633.3" cy="137.2" r="1.55" fill="#e8242a"/>
<circle cx="633.3" cy="141.9" r="1.55" fill="#e8242a"/>
<circle cx="629.2" cy="144.4" r="1.55" fill="#e8242a"/>
<rect x="623.1" y="142.9" width="3" height="3" fill="#1c2cff"/>
<rect x="627.7" y="137.5" width="3" height="3" fill="#1c2cff"/>
<rect x="631.8" y="144.6" width="3" height="3" fill="#1c2cff"/>
<rect x="623.1" y="147.7" width="3" height="3" fill="#1c2cff"/>
<circle cx="642.5" cy="140" r="1.55" fill="#e8242a"/>
<circle cx="642.5" cy="144.4" r="1.55" fill="#e8242a"/>
<circle cx="651.5" cy="137.2" r="1.55" fill="#e8242a"/>
<circle cx="651.5" cy="142.2" r="1.55" fill="#e8242a"/>
<rect x="641.0" y="147.4" width="3" height="3" fill="#1c2cff"/>
<rect x="650.0" y="145.3" width="3" height="3" fill="#1c2cff"/>
<rect x="650.0" y="150.3" width="3" height="3" fill="#1c2cff"/>
<rect x="641.0" y="153.2" width="3" height="3" fill="#1c2cff"/>
<path d="M38.2,288 L38.2,379.2 L182.5,379.2" fill="none" stroke="#4a4a4a" stroke-width="0.9"/>
<line x1="36.7" y1="379.2" x2="38.2" y2="379.2" stroke="#4a4a4a" stroke-width="0.8"/>
<text x="36.400000000000006" y="381.0" font-size="5.4" font-weight="bold" fill="#111" stroke="#111" stroke-width="0.08" text-anchor="end">0.0</text>
<line x1="36.7" y1="349" x2="38.2" y2="349" stroke="#4a4a4a" stroke-width="0.8"/>
<text x="36.400000000000006" y="350.8" font-size="5.4" font-weight="bold" fill="#111" stroke="#111" stroke-width="0.08" text-anchor="end">5.0×10<tspan dy="-1.8" font-size="3.8">5</tspan></text>
<line x1="36.7" y1="318.8" x2="38.2" y2="318.8" stroke="#4a4a4a" stroke-width="0.8"/>
<text x="36.400000000000006" y="320.6" font-size="5.4" font-weight="bold" fill="#111" stroke="#111" stroke-width="0.08" text-anchor="end">1.0×10<tspan dy="-1.8" font-size="3.8">6</tspan></text>
<line x1="36.7" y1="288.6" x2="38.2" y2="288.6" stroke="#4a4a4a" stroke-width="0.8"/>
<text x="36.400000000000006" y="290.40000000000003" font-size="5.4" font-weight="bold" fill="#111" stroke="#111" stroke-width="0.08" text-anchor="end">1.5×10<tspan dy="-1.8" font-size="3.8">6</tspan></text>
<line x1="51.1" y1="379.2" x2="51.1" y2="380.7" stroke="#4a4a4a" stroke-width="0.8"/>
<text x="51.1" y="386.09999999999997" font-size="4.7" font-weight="bold" fill="#111" stroke="#111" stroke-width="0.08" text-anchor="middle">Baseline</text>
<line x1="70.77000000000001" y1="379.2" x2="70.77000000000001" y2="380.7" stroke="#4a4a4a" stroke-width="0.8"/>
<text x="70.77000000000001" y="386.09999999999997" font-size="4.7" font-weight="bold" fill="#111" stroke="#111" stroke-width="0.08" text-anchor="middle">2</text>
<line x1="90.44" y1="379.2" x2="90.44" y2="380.7" stroke="#4a4a4a" stroke-width="0.8"/>
<text x="90.44" y="386.09999999999997" font-size="4.7" font-weight="bold" fill="#111" stroke="#111" stroke-width="0.08" text-anchor="middle">7</text>
<line x1="110.11000000000001" y1="379.2" x2="110.11000000000001" y2="380.7" stroke="#4a4a4a" stroke-width="0.8"/>
<text x="110.11000000000001" y="386.09999999999997" font-size="4.7" font-weight="bold" fill="#111" stroke="#111" stroke-width="0.08" text-anchor="middle">14</text>
<line x1="129.78" y1="379.2" x2="129.78" y2="380.7" stroke="#4a4a4a" stroke-width="0.8"/>
<text x="129.78" y="386.09999999999997" font-size="4.7" font-weight="bold" fill="#111" stroke="#111" stroke-width="0.08" text-anchor="middle">21</text>
<line x1="149.45000000000002" y1="379.2" x2="149.45000000000002" y2="380.7" stroke="#4a4a4a" stroke-width="0.8"/>
<text x="149.45000000000002" y="386.09999999999997" font-size="4.7" font-weight="bold" fill="#111" stroke="#111" stroke-width="0.08" text-anchor="middle">28</text>
<line x1="169.12" y1="379.2" x2="169.12" y2="380.7" stroke="#4a4a4a" stroke-width="0.8"/>
<text x="169.12" y="386.09999999999997" font-size="4.7" font-weight="bold" fill="#111" stroke="#111" stroke-width="0.08" text-anchor="middle">35</text>
<text x="109.8" y="394.3" font-size="7.4" font-weight="bold" fill="#111" text-anchor="middle" textLength="13.4" lengthAdjust="spacingAndGlyphs">Day</text>
<text x="9" y="332.8" font-size="12" font-weight="bold" fill="#1a1a1a" text-anchor="middle" textLength="24.5" lengthAdjust="spacingAndGlyphs" transform="rotate(-90 9 332.8)" dominant-baseline="central">Flux</text>
<line x1="45.1" y1="365" x2="57.1" y2="365" stroke="#f05050" stroke-width="0.8"/>
<line x1="45.1" y1="364.8" x2="57.1" y2="364.8" stroke="#3048ff" stroke-width="0.8"/>
<line x1="45.1" y1="373.2" x2="57.1" y2="373.2" stroke="#404040" stroke-width="0.8"/>
<line x1="64.5" y1="360.6" x2="76.5" y2="360.6" stroke="#f05050" stroke-width="0.8"/>
<line x1="64.5" y1="360.9" x2="76.5" y2="360.9" stroke="#3048ff" stroke-width="0.8"/>
<line x1="64.5" y1="374.5" x2="76.5" y2="374.5" stroke="#404040" stroke-width="0.8"/>
<line x1="84.2" y1="361.1" x2="96.2" y2="361.1" stroke="#f05050" stroke-width="0.8"/>
<line x1="84.2" y1="366.1" x2="96.2" y2="366.1" stroke="#3048ff" stroke-width="0.8"/>
<line x1="84.2" y1="374.2" x2="96.2" y2="374.2" stroke="#404040" stroke-width="0.8"/>
<line x1="104.1" y1="351.8" x2="116.1" y2="351.8" stroke="#f05050" stroke-width="0.8"/>
<line x1="104.1" y1="363" x2="116.1" y2="363" stroke="#3048ff" stroke-width="0.8"/>
<line x1="104.1" y1="372.4" x2="116.1" y2="372.4" stroke="#404040" stroke-width="0.8"/>
<line x1="123.69999999999999" y1="348.2" x2="135.7" y2="348.2" stroke="#f05050" stroke-width="0.8"/>
<line x1="123.69999999999999" y1="365.4" x2="135.7" y2="365.4" stroke="#3048ff" stroke-width="0.8"/>
<line x1="123.69999999999999" y1="370.3" x2="135.7" y2="370.3" stroke="#404040" stroke-width="0.8"/>
<line x1="142.9" y1="333.5" x2="154.9" y2="333.5" stroke="#f05050" stroke-width="0.8"/>
<line x1="142.9" y1="358.3" x2="154.9" y2="358.3" stroke="#3048ff" stroke-width="0.8"/>
<line x1="142.9" y1="369.9" x2="154.9" y2="369.9" stroke="#404040" stroke-width="0.8"/>
<line x1="163.1" y1="310.2" x2="175.1" y2="310.2" stroke="#f05050" stroke-width="0.8"/>
<line x1="163.1" y1="354.1" x2="175.1" y2="354.1" stroke="#3048ff" stroke-width="0.8"/>
<line x1="163.1" y1="365" x2="175.1" y2="365" stroke="#404040" stroke-width="0.8"/>
<rect x="44.4" y="360.9" width="3" height="3" fill="#1c2cff"/>
<rect x="54.7" y="362.8" width="3" height="3" fill="#1c2cff"/>
<rect x="54.7" y="365.8" width="3" height="3" fill="#1c2cff"/>
<rect x="47.1" y="363.1" width="3" height="3" fill="#1c2cff"/>
<circle cx="51" cy="362.4" r="1.55" fill="#e8242a"/>
<circle cx="51" cy="365.6" r="1.55" fill="#e8242a"/>
<circle cx="45.9" cy="367.3" r="1.55" fill="#e8242a"/>
<path d="M44.199999999999996,372.3 L47.6,372.3 L45.9,369.4 Z" fill="#707070"/>
<path d="M44.199999999999996,376.3 L47.6,376.3 L45.9,373.4 Z" fill="#707070"/>
<path d="M54.3,374.8 L57.7,374.8 L56,371.9 Z" fill="#707070"/>
<circle cx="67.7" cy="355" r="1.55" fill="#e8242a"/>
<circle cx="67.7" cy="358.7" r="1.55" fill="#e8242a"/>
<circle cx="67.7" cy="362.7" r="1.55" fill="#e8242a"/>
<circle cx="67.7" cy="366.4" r="1.55" fill="#e8242a"/>
<rect x="72.0" y="352.0" width="3" height="3" fill="#1c2cff"/>
<rect x="72.0" y="355.9" width="3" height="3" fill="#1c2cff"/>
<rect x="72.0" y="360.9" width="3" height="3" fill="#1c2cff"/>
<rect x="72.0" y="364.9" width="3" height="3" fill="#1c2cff"/>
<path d="M66.0,378.3 L69.4,378.3 L67.7,375.4 Z" fill="#707070"/>
<path d="M71.8,372.3 L75.2,372.3 L73.5,369.4 Z" fill="#707070"/>
<path d="M71.8,377.3 L75.2,377.3 L73.5,374.4 Z" fill="#707070"/>
<circle cx="90.5" cy="359.4" r="1.55" fill="#e8242a"/>
<circle cx="95.4" cy="358.4" r="1.55" fill="#e8242a"/>
<circle cx="95.4" cy="361.5" r="1.55" fill="#e8242a"/>
<circle cx="95.4" cy="364.8" r="1.55" fill="#e8242a"/>
<rect x="83.8" y="363.7" width="3" height="3" fill="#1c2cff"/>
<rect x="89.0" y="362.1" width="3" height="3" fill="#1c2cff"/>
<rect x="89.0" y="366.5" width="3" height="3" fill="#1c2cff"/>
<rect x="93.9" y="369.3" width="3" height="3" fill="#1c2cff"/>
<path d="M83.6,373.3 L87.0,373.3 L85.3,370.4 Z" fill="#707070"/>
<path d="M83.6,377.3 L87.0,377.3 L85.3,374.4 Z" fill="#707070"/>
<path d="M93.7,376.3 L97.10000000000001,376.3 L95.4,373.4 Z" fill="#707070"/>
<circle cx="109.9" cy="343.7" r="1.55" fill="#e8242a"/>
<circle cx="107.6" cy="353.1" r="1.55" fill="#e8242a"/>
<circle cx="113.1" cy="350.8" r="1.55" fill="#e8242a"/>
<circle cx="112.5" cy="357.5" r="1.55" fill="#e8242a"/>
<rect x="106.1" y="358.5" width="3" height="3" fill="#1c2cff"/>
<rect x="111.6" y="361.5" width="3" height="3" fill="#1c2cff"/>
<rect x="106.1" y="361.9" width="3" height="3" fill="#1c2cff"/>
<rect x="108.5" y="365.8" width="3" height="3" fill="#1c2cff"/>
<path d="M103.3,375.3 L106.7,375.3 L105,372.4 Z" fill="#707070"/>
<path d="M108.3,373.3 L111.7,373.3 L110,370.4 Z" fill="#707070"/>
<path d="M113.3,373.3 L116.7,373.3 L115,370.4 Z" fill="#707070"/>
<circle cx="129.8" cy="343.7" r="1.55" fill="#e8242a"/>
<circle cx="129.8" cy="352.8" r="1.55" fill="#e8242a"/>
<rect x="128.3" y="361.1" width="3" height="3" fill="#1c2cff"/>
<rect x="128.3" y="367.0" width="3" height="3" fill="#1c2cff"/>
<path d="M123.3,371.8 L126.7,371.8 L125,368.9 Z" fill="#707070"/>
<path d="M132.3,371.8 L135.7,371.8 L134,368.9 Z" fill="#707070"/>
<circle cx="144" cy="333.9" r="1.55" fill="#e8242a"/>
<circle cx="149.3" cy="331.5" r="1.55" fill="#e8242a"/>
<circle cx="154.4" cy="333.5" r="1.55" fill="#e8242a"/>
<rect x="144.5" y="357.2" width="3" height="3" fill="#1c2cff"/>
<rect x="147.8" y="359.9" width="3" height="3" fill="#1c2cff"/>
<rect x="150.9" y="355.5" width="3" height="3" fill="#1c2cff"/>
<path d="M142.3,372.3 L145.7,372.3 L144,369.4 Z" fill="#707070"/>
<path d="M152.3,372.3 L155.7,372.3 L154,369.4 Z" fill="#707070"/>
<circle cx="169" cy="301" r="1.55" fill="#e8242a"/>
<circle cx="169" cy="307.5" r="1.55" fill="#e8242a"/>
<circle cx="169" cy="313.4" r="1.55" fill="#e8242a"/>
<circle cx="169" cy="322.6" r="1.55" fill="#e8242a"/>
<rect x="164.7" y="351.3" width="3" height="3" fill="#1c2cff"/>
<rect x="170.6" y="348.7" width="3" height="3" fill="#1c2cff"/>
<rect x="167.5" y="358.5" width="3" height="3" fill="#1c2cff"/>
<path d="M164.3,363.3 L167.7,363.3 L166,360.4 Z" fill="#707070"/>
<path d="M170.3,363.3 L173.7,363.3 L172,360.4 Z" fill="#707070"/>
<path d="M167.3,369.3 L170.7,369.3 L169,366.4 Z" fill="#707070"/>
<path d="M202.3,291.8 L202.3,378.9 L332.8,378.9" fill="none" stroke="#4a4a4a" stroke-width="0.9"/>
<line x1="200.8" y1="378.9" x2="202.3" y2="378.9" stroke="#4a4a4a" stroke-width="0.8"/>
<text x="200.5" y="380.7" font-size="5.4" font-weight="bold" fill="#111" stroke="#111" stroke-width="0.08" text-anchor="end">0</text>
<line x1="200.8" y1="356.9" x2="202.3" y2="356.9" stroke="#4a4a4a" stroke-width="0.8"/>
<text x="200.5" y="358.7" font-size="5.4" font-weight="bold" fill="#111" stroke="#111" stroke-width="0.08" text-anchor="end">2</text>
<line x1="200.8" y1="335.2" x2="202.3" y2="335.2" stroke="#4a4a4a" stroke-width="0.8"/>
<text x="200.5" y="337.0" font-size="5.4" font-weight="bold" fill="#111" stroke="#111" stroke-width="0.08" text-anchor="end">4</text>
<line x1="200.8" y1="313.5" x2="202.3" y2="313.5" stroke="#4a4a4a" stroke-width="0.8"/>
<text x="200.5" y="315.3" font-size="5.4" font-weight="bold" fill="#111" stroke="#111" stroke-width="0.08" text-anchor="end">6</text>
<line x1="200.8" y1="291.8" x2="202.3" y2="291.8" stroke="#4a4a4a" stroke-width="0.8"/>
<text x="200.5" y="293.6" font-size="5.4" font-weight="bold" fill="#111" stroke="#111" stroke-width="0.08" text-anchor="end">8</text>
<line x1="214.1" y1="378.9" x2="214.1" y2="380.4" stroke="#4a4a4a" stroke-width="0.8"/>
<text x="214.1" y="385.79999999999995" font-size="4.7" font-weight="bold" fill="#111" stroke="#111" stroke-width="0.08" text-anchor="middle">Baseline</text>
<line x1="231.93" y1="378.9" x2="231.93" y2="380.4" stroke="#4a4a4a" stroke-width="0.8"/>
<text x="231.93" y="385.79999999999995" font-size="4.7" font-weight="bold" fill="#111" stroke="#111" stroke-width="0.08" text-anchor="middle">2</text>
<line x1="249.76" y1="378.9" x2="249.76" y2="380.4" stroke="#4a4a4a" stroke-width="0.8"/>
<text x="249.76" y="385.79999999999995" font-size="4.7" font-weight="bold" fill="#111" stroke="#111" stroke-width="0.08" text-anchor="middle">7</text>
<line x1="267.59" y1="378.9" x2="267.59" y2="380.4" stroke="#4a4a4a" stroke-width="0.8"/>
<text x="267.59" y="385.79999999999995" font-size="4.7" font-weight="bold" fill="#111" stroke="#111" stroke-width="0.08" text-anchor="middle">14</text>
<line x1="285.41999999999996" y1="378.9" x2="285.41999999999996" y2="380.4" stroke="#4a4a4a" stroke-width="0.8"/>
<text x="285.41999999999996" y="385.79999999999995" font-size="4.7" font-weight="bold" fill="#111" stroke="#111" stroke-width="0.08" text-anchor="middle">21</text>
<line x1="303.25" y1="378.9" x2="303.25" y2="380.4" stroke="#4a4a4a" stroke-width="0.8"/>
<text x="303.25" y="385.79999999999995" font-size="4.7" font-weight="bold" fill="#111" stroke="#111" stroke-width="0.08" text-anchor="middle">28</text>
<line x1="321.08" y1="378.9" x2="321.08" y2="380.4" stroke="#4a4a4a" stroke-width="0.8"/>
<text x="321.08" y="385.79999999999995" font-size="4.7" font-weight="bold" fill="#111" stroke="#111" stroke-width="0.08" text-anchor="middle">35</text>
<text x="267.4" y="394.3" font-size="7.4" font-weight="bold" fill="#111" text-anchor="middle" textLength="12.8" lengthAdjust="spacingAndGlyphs">Day</text>
<text x="189.3" y="338.1" font-size="7" font-weight="bold" fill="#1a1a1a" text-anchor="middle" textLength="103.8" lengthAdjust="spacingAndGlyphs" transform="rotate(-90 189.3 338.1)" dominant-baseline="central">Relative Bioluminescence Ratio</text>
<line x1="208.1" y1="356" x2="220.1" y2="356" stroke="#3048ff" stroke-width="0.8"/>
<line x1="225.8" y1="340" x2="237.8" y2="340" stroke="#f05050" stroke-width="0.8"/>
<line x1="225.8" y1="340.5" x2="237.8" y2="340.5" stroke="#3048ff" stroke-width="0.8"/>
<line x1="243.8" y1="345.2" x2="255.8" y2="345.2" stroke="#f05050" stroke-width="0.8"/>
<line x1="243.8" y1="355.5" x2="255.8" y2="355.5" stroke="#3048ff" stroke-width="0.8"/>
<line x1="261.8" y1="335.3" x2="273.8" y2="335.3" stroke="#f05050" stroke-width="0.8"/>
<line x1="261.8" y1="353.4" x2="273.8" y2="353.4" stroke="#3048ff" stroke-width="0.8"/>
<line x1="279.4" y1="343.3" x2="291.4" y2="343.3" stroke="#f05050" stroke-width="0.8"/>
<line x1="279.4" y1="363.4" x2="291.4" y2="363.4" stroke="#3048ff" stroke-width="0.8"/>
<line x1="297.1" y1="323.9" x2="309.1" y2="323.9" stroke="#f05050" stroke-width="0.8"/>
<line x1="297.1" y1="355.1" x2="309.1" y2="355.1" stroke="#3048ff" stroke-width="0.8"/>
<line x1="315.1" y1="321.2" x2="327.1" y2="321.2" stroke="#f05050" stroke-width="0.8"/>
<line x1="315.1" y1="358" x2="327.1" y2="358" stroke="#3048ff" stroke-width="0.8"/>
<circle cx="214.1" cy="348.8" r="1.55" fill="#e8242a"/>
<circle cx="214.1" cy="353.4" r="1.55" fill="#e8242a"/>
<circle cx="210" cy="360.3" r="1.55" fill="#e8242a"/>
<circle cx="218.6" cy="360" r="1.55" fill="#e8242a"/>
<rect x="208.5" y="350.7" width="3" height="3" fill="#1c2cff"/>
<rect x="208.5" y="354.5" width="3" height="3" fill="#1c2cff"/>
<rect x="212.6" y="355.4" width="3" height="3" fill="#1c2cff"/>
<rect x="217.1" y="354.5" width="3" height="3" fill="#1c2cff"/>
<circle cx="227.6" cy="334.1" r="1.55" fill="#e8242a"/>
<circle cx="227.6" cy="337.1" r="1.55" fill="#e8242a"/>
<circle cx="227.6" cy="342.8" r="1.55" fill="#e8242a"/>
<circle cx="227.6" cy="346.9" r="1.55" fill="#e8242a"/>
<rect x="230.4" y="333.0" width="3" height="3" fill="#1c2cff"/>
<rect x="234.7" y="334.4" width="3" height="3" fill="#1c2cff"/>
<rect x="234.7" y="339.0" width="3" height="3" fill="#1c2cff"/>
<rect x="234.7" y="343.0" width="3" height="3" fill="#1c2cff"/>
<circle cx="245.2" cy="344" r="1.55" fill="#e8242a"/>
<circle cx="249.7" cy="340.5" r="1.55" fill="#e8242a"/>
<circle cx="254.3" cy="346.2" r="1.55" fill="#e8242a"/>
<circle cx="245.2" cy="349.7" r="1.55" fill="#e8242a"/>
<rect x="243.7" y="355.4" width="3" height="3" fill="#1c2cff"/>
<rect x="246.7" y="354.0" width="3" height="3" fill="#1c2cff"/>
<rect x="249.7" y="354.0" width="3" height="3" fill="#1c2cff"/>
<rect x="252.7" y="354.0" width="3" height="3" fill="#1c2cff"/>
<circle cx="263.4" cy="334.1" r="1.55" fill="#e8242a"/>
<circle cx="271.6" cy="332.4" r="1.55" fill="#e8242a"/>
<circle cx="263.4" cy="338.8" r="1.55" fill="#e8242a"/>
<rect x="261.9" y="351.9" width="3" height="3" fill="#1c2cff"/>
<rect x="266.1" y="350.5" width="3" height="3" fill="#1c2cff"/>
<rect x="270.1" y="350.5" width="3" height="3" fill="#1c2cff"/>
<rect x="266.1" y="357.5" width="3" height="3" fill="#1c2cff"/>
<circle cx="285.4" cy="338.3" r="1.55" fill="#e8242a"/>
<circle cx="285.4" cy="348.2" r="1.55" fill="#e8242a"/>
<rect x="283.9" y="358.5" width="3" height="3" fill="#1c2cff"/>
<rect x="283.9" y="364.4" width="3" height="3" fill="#1c2cff"/>
<circle cx="303.1" cy="314.7" r="1.55" fill="#e8242a"/>
<circle cx="303.1" cy="324.5" r="1.55" fill="#e8242a"/>
<circle cx="303.1" cy="332.4" r="1.55" fill="#e8242a"/>
<rect x="297.1" y="351.6" width="3" height="3" fill="#1c2cff"/>
<rect x="297.1" y="354.6" width="3" height="3" fill="#1c2cff"/>
<rect x="306.0" y="353.6" width="3" height="3" fill="#1c2cff"/>
<circle cx="320.9" cy="306.8" r="1.55" fill="#e8242a"/>
<circle cx="320.9" cy="317.2" r="1.55" fill="#e8242a"/>
<circle cx="320.9" cy="327.1" r="1.55" fill="#e8242a"/>
<circle cx="320.9" cy="335.8" r="1.55" fill="#e8242a"/>
<rect x="314.9" y="354.6" width="3" height="3" fill="#1c2cff"/>
<rect x="324.1" y="353.2" width="3" height="3" fill="#1c2cff"/>
<rect x="319.4" y="357.9" width="3" height="3" fill="#1c2cff"/>
<rect x="319.4" y="361.9" width="3" height="3" fill="#1c2cff"/>
<path d="M372.5,287.2 L372.5,384.5 L505.9,384.5" fill="none" stroke="#4a4a4a" stroke-width="0.9"/>
<line x1="371.0" y1="384.5" x2="372.5" y2="384.5" stroke="#4a4a4a" stroke-width="0.8"/>
<text x="370.7" y="386.3" font-size="5.4" font-weight="bold" fill="#111" stroke="#111" stroke-width="0.08" text-anchor="end">0</text>
<line x1="371.0" y1="360.3" x2="372.5" y2="360.3" stroke="#4a4a4a" stroke-width="0.8"/>
<text x="370.7" y="362.1" font-size="5.4" font-weight="bold" fill="#111" stroke="#111" stroke-width="0.08" text-anchor="end">2×10<tspan dy="-1.8" font-size="3.8">6</tspan></text>
<line x1="371.0" y1="336.4" x2="372.5" y2="336.4" stroke="#4a4a4a" stroke-width="0.8"/>
<text x="370.7" y="338.2" font-size="5.4" font-weight="bold" fill="#111" stroke="#111" stroke-width="0.08" text-anchor="end">4×10<tspan dy="-1.8" font-size="3.8">6</tspan></text>
<line x1="371.0" y1="312.2" x2="372.5" y2="312.2" stroke="#4a4a4a" stroke-width="0.8"/>
<text x="370.7" y="314.0" font-size="5.4" font-weight="bold" fill="#111" stroke="#111" stroke-width="0.08" text-anchor="end">6×10<tspan dy="-1.8" font-size="3.8">6</tspan></text>
<line x1="371.0" y1="287.8" x2="372.5" y2="287.8" stroke="#4a4a4a" stroke-width="0.8"/>
<text x="370.7" y="289.6" font-size="5.4" font-weight="bold" fill="#111" stroke="#111" stroke-width="0.08" text-anchor="end">8×10<tspan dy="-1.8" font-size="3.8">6</tspan></text>
<line x1="384.6" y1="384.5" x2="384.6" y2="386.0" stroke="#4a4a4a" stroke-width="0.8"/>
<text x="384.6" y="391.4" font-size="4.7" font-weight="bold" fill="#111" stroke="#111" stroke-width="0.08" text-anchor="middle">Baseline</text>
<line x1="402.77000000000004" y1="384.5" x2="402.77000000000004" y2="386.0" stroke="#4a4a4a" stroke-width="0.8"/>
<text x="402.77000000000004" y="391.4" font-size="4.7" font-weight="bold" fill="#111" stroke="#111" stroke-width="0.08" text-anchor="middle">2</text>
<line x1="420.94000000000005" y1="384.5" x2="420.94000000000005" y2="386.0" stroke="#4a4a4a" stroke-width="0.8"/>
<text x="420.94000000000005" y="391.4" font-size="4.7" font-weight="bold" fill="#111" stroke="#111" stroke-width="0.08" text-anchor="middle">7</text>
<line x1="439.11" y1="384.5" x2="439.11" y2="386.0" stroke="#4a4a4a" stroke-width="0.8"/>
<text x="439.11" y="391.4" font-size="4.7" font-weight="bold" fill="#111" stroke="#111" stroke-width="0.08" text-anchor="middle">14</text>
<line x1="457.28000000000003" y1="384.5" x2="457.28000000000003" y2="386.0" stroke="#4a4a4a" stroke-width="0.8"/>
<text x="457.28000000000003" y="391.4" font-size="4.7" font-weight="bold" fill="#111" stroke="#111" stroke-width="0.08" text-anchor="middle">21</text>
<line x1="475.45000000000005" y1="384.5" x2="475.45000000000005" y2="386.0" stroke="#4a4a4a" stroke-width="0.8"/>
<text x="475.45000000000005" y="391.4" font-size="4.7" font-weight="bold" fill="#111" stroke="#111" stroke-width="0.08" text-anchor="middle">28</text>
<line x1="493.62" y1="384.5" x2="493.62" y2="386.0" stroke="#4a4a4a" stroke-width="0.8"/>
<text x="493.62" y="391.4" font-size="4.7" font-weight="bold" fill="#111" stroke="#111" stroke-width="0.08" text-anchor="middle">35</text>
<text x="439.5" y="398.6" font-size="7.4" font-weight="bold" fill="#111" text-anchor="middle" textLength="12.2" lengthAdjust="spacingAndGlyphs">Day</text>
<text x="347.8" y="327.7" font-size="12" font-weight="bold" fill="#1a1a1a" text-anchor="middle" textLength="23.5" lengthAdjust="spacingAndGlyphs" transform="rotate(-90 347.8 327.7)" dominant-baseline="central">Flux</text>
<line x1="377.7" y1="323.1" x2="391.7" y2="323.1" stroke="#f05050" stroke-width="0.8"/>
<line x1="377.7" y1="321.9" x2="391.7" y2="321.9" stroke="#3048ff" stroke-width="0.8"/>
<line x1="377.7" y1="346.5" x2="391.7" y2="346.5" stroke="#404040" stroke-width="0.8"/>
<line x1="395.7" y1="311.9" x2="409.7" y2="311.9" stroke="#f05050" stroke-width="0.8"/>
<line x1="395.7" y1="321.9" x2="409.7" y2="321.9" stroke="#3048ff" stroke-width="0.8"/>
<line x1="395.7" y1="341.6" x2="409.7" y2="341.6" stroke="#404040" stroke-width="0.8"/>
<line x1="413.7" y1="305.5" x2="427.7" y2="305.5" stroke="#f05050" stroke-width="0.8"/>
<line x1="413.7" y1="341.5" x2="427.7" y2="341.5" stroke="#3048ff" stroke-width="0.8"/>
<line x1="413.7" y1="345.2" x2="427.7" y2="345.2" stroke="#404040" stroke-width="0.8"/>
<line x1="431.7" y1="317.2" x2="445.7" y2="317.2" stroke="#f05050" stroke-width="0.8"/>
<line x1="431.7" y1="330.5" x2="445.7" y2="330.5" stroke="#3048ff" stroke-width="0.8"/>
<line x1="431.7" y1="338.2" x2="445.7" y2="338.2" stroke="#404040" stroke-width="0.8"/>
<line x1="449.7" y1="307.2" x2="463.7" y2="307.2" stroke="#f05050" stroke-width="0.8"/>
<line x1="449.7" y1="312.7" x2="463.7" y2="312.7" stroke="#3048ff" stroke-width="0.8"/>
<line x1="449.7" y1="337.5" x2="463.7" y2="337.5" stroke="#404040" stroke-width="0.8"/>
<line x1="467.7" y1="327.8" x2="481.7" y2="327.8" stroke="#f05050" stroke-width="0.8"/>
<line x1="467.7" y1="338.2" x2="481.7" y2="338.2" stroke="#3048ff" stroke-width="0.8"/>
<line x1="467.7" y1="346" x2="481.7" y2="346" stroke="#404040" stroke-width="0.8"/>
<line x1="485.7" y1="336.4" x2="499.7" y2="336.4" stroke="#f05050" stroke-width="0.8"/>
<line x1="485.7" y1="342.2" x2="499.7" y2="342.2" stroke="#3048ff" stroke-width="0.8"/>
<line x1="485.7" y1="351.1" x2="499.7" y2="351.1" stroke="#404040" stroke-width="0.8"/>
<circle cx="382" cy="311.9" r="1.55" fill="#e8242a"/>
<circle cx="382" cy="319.3" r="1.55" fill="#e8242a"/>
<circle cx="382" cy="328.3" r="1.55" fill="#e8242a"/>
<circle cx="389.4" cy="337.8" r="1.55" fill="#e8242a"/>
<rect x="385.6" y="308.7" width="3" height="3" fill="#1c2cff"/>
<rect x="385.6" y="316.1" width="3" height="3" fill="#1c2cff"/>
<rect x="385.6" y="324.7" width="3" height="3" fill="#1c2cff"/>
<rect x="382.7" y="333.7" width="3" height="3" fill="#1c2cff"/>
<path d="M383.0,344.6 L386.4,344.6 L384.7,341.7 Z" fill="#707070"/>
<path d="M383.0,351.1 L386.4,351.1 L384.7,348.2 Z" fill="#707070"/>
<path d="M383.0,357.6 L386.4,357.6 L384.7,354.7 Z" fill="#707070"/>
<path d="M378.3,338.3 L381.7,338.3 L380,335.4 Z" fill="#707070"/>
<circle cx="402.7" cy="303.3" r="1.55" fill="#e8242a"/>
<circle cx="402.7" cy="309.3" r="1.55" fill="#e8242a"/>
<circle cx="405.2" cy="314.5" r="1.55" fill="#e8242a"/>
<rect x="397.7" y="314.7" width="3" height="3" fill="#1c2cff"/>
<rect x="397.7" y="318.2" width="3" height="3" fill="#1c2cff"/>
<rect x="401.2" y="320.4" width="3" height="3" fill="#1c2cff"/>
<rect x="401.2" y="328.2" width="3" height="3" fill="#1c2cff"/>
<path d="M401.0,339.3 L404.4,339.3 L402.7,336.4 Z" fill="#707070"/>
<path d="M401.0,343.7 L404.4,343.7 L402.7,340.79999999999995 Z" fill="#707070"/>
<path d="M401.0,348.6 L404.4,348.6 L402.7,345.7 Z" fill="#707070"/>
<circle cx="420.3" cy="296.1" r="1.55" fill="#e8242a"/>
<circle cx="420.3" cy="316.6" r="1.55" fill="#e8242a"/>
<rect x="416.6" y="343.7" width="3" height="3" fill="#1c2cff"/>
<rect x="421.9" y="334.4" width="3" height="3" fill="#1c2cff"/>
<rect x="421.9" y="344.3" width="3" height="3" fill="#1c2cff"/>
<path d="M418.3,354.8 L421.7,354.8 L420,351.9 Z" fill="#707070"/>
<path d="M414.3,344.3 L417.7,344.3 L416,341.4 Z" fill="#707070"/>
<circle cx="438.7" cy="299.4" r="1.55" fill="#e8242a"/>
<circle cx="438.7" cy="309.8" r="1.55" fill="#e8242a"/>
<circle cx="434.3" cy="324.5" r="1.55" fill="#e8242a"/>
<circle cx="438.7" cy="341.5" r="1.55" fill="#e8242a"/>
<rect x="437.2" y="312.8" width="3" height="3" fill="#1c2cff"/>
<rect x="437.2" y="322.3" width="3" height="3" fill="#1c2cff"/>
<rect x="437.2" y="335.6" width="3" height="3" fill="#1c2cff"/>
<rect x="437.2" y="351.1" width="3" height="3" fill="#1c2cff"/>
<path d="M441.3,325.3 L444.7,325.3 L443,322.4 Z" fill="#707070"/>
<path d="M437.0,334.6 L440.4,334.6 L438.7,331.7 Z" fill="#707070"/>
<path d="M437.0,359.0 L440.4,359.0 L438.7,356.09999999999997 Z" fill="#707070"/>
<circle cx="457.2" cy="294.3" r="1.55" fill="#e8242a"/>
<circle cx="454.9" cy="302.7" r="1.55" fill="#e8242a"/>
<circle cx="457.2" cy="312" r="1.55" fill="#e8242a"/>
<circle cx="457.2" cy="323.1" r="1.55" fill="#e8242a"/>
<rect x="458.5" y="298.6" width="3" height="3" fill="#1c2cff"/>
<rect x="455.7" y="306.1" width="3" height="3" fill="#1c2cff"/>
<rect x="455.7" y="316.3" width="3" height="3" fill="#1c2cff"/>
<rect x="452.8" y="334.1" width="3" height="3" fill="#1c2cff"/>
<path d="M455.5,330.2 L458.9,330.2 L457.2,327.29999999999995 Z" fill="#707070"/>
<path d="M458.3,335.1 L461.7,335.1 L460,332.2 Z" fill="#707070"/>
<path d="M455.5,342.8 L458.9,342.8 L457.2,339.9 Z" fill="#707070"/>
<path d="M455.5,350.6 L458.9,350.6 L457.2,347.7 Z" fill="#707070"/>
<circle cx="475.6" cy="318.7" r="1.55" fill="#e8242a"/>
<circle cx="475.6" cy="323.1" r="1.55" fill="#e8242a"/>
<circle cx="475.6" cy="328.2" r="1.55" fill="#e8242a"/>
<circle cx="480.4" cy="334.2" r="1.55" fill="#e8242a"/>
<circle cx="473.8" cy="340.9" r="1.55" fill="#e8242a"/>
<rect x="469.0" y="334.1" width="3" height="3" fill="#1c2cff"/>
<rect x="469.0" y="336.7" width="3" height="3" fill="#1c2cff"/>
<rect x="472.7" y="332.3" width="3" height="3" fill="#1c2cff"/>
<rect x="478.9" y="340.0" width="3" height="3" fill="#1c2cff"/>
<rect x="475.6" y="343.8" width="3" height="3" fill="#1c2cff"/>
<path d="M468.8,344.40000000000003 L472.2,344.40000000000003 L470.5,341.5 Z" fill="#707070"/>
<path d="M468.8,349.5 L472.2,349.5 L470.5,346.59999999999997 Z" fill="#707070"/>
<path d="M473.90000000000003,351.7 L477.3,351.7 L475.6,348.79999999999995 Z" fill="#707070"/>
<path d="M473.90000000000003,356.8 L477.3,356.8 L475.6,353.9 Z" fill="#707070"/>
<circle cx="493.3" cy="323.1" r="1.55" fill="#e8242a"/>
<circle cx="490.4" cy="329.3" r="1.55" fill="#e8242a"/>
<circle cx="496" cy="334.2" r="1.55" fill="#e8242a"/>
<circle cx="493.3" cy="351.5" r="1.55" fill="#e8242a"/>
<circle cx="490.4" cy="357" r="1.55" fill="#e8242a"/>
<rect x="494.5" y="326.7" width="3" height="3" fill="#1c2cff"/>
<rect x="488.9" y="337.8" width="3" height="3" fill="#1c2cff"/>
<rect x="488.9" y="343.8" width="3" height="3" fill="#1c2cff"/>
<rect x="496.7" y="350.0" width="3" height="3" fill="#1c2cff"/>
<rect x="496.7" y="355.6" width="3" height="3" fill="#1c2cff"/>
<path d="M487.6,355.0 L491.0,355.0 L489.3,352.09999999999997 Z" fill="#707070"/>
<path d="M487.6,360.6 L491.0,360.6 L489.3,357.7 Z" fill="#707070"/>
<path d="M491.6,365.0 L495.0,365.0 L493.3,362.09999999999997 Z" fill="#707070"/>
<path d="M494.3,346.3 L497.7,346.3 L496,343.4 Z" fill="#707070"/>
<path d="M537.6,289.5 L537.6,382.1 L653.7,382.1" fill="none" stroke="#4a4a4a" stroke-width="0.9"/>
<line x1="536.1" y1="382.1" x2="537.6" y2="382.1" stroke="#4a4a4a" stroke-width="0.8"/>
<text x="535.8000000000001" y="383.90000000000003" font-size="5.4" font-weight="bold" fill="#111" stroke="#111" stroke-width="0.08" text-anchor="end">0.5</text>
<line x1="536.1" y1="359.2" x2="537.6" y2="359.2" stroke="#4a4a4a" stroke-width="0.8"/>
<text x="535.8000000000001" y="361.0" font-size="5.4" font-weight="bold" fill="#111" stroke="#111" stroke-width="0.08" text-anchor="end">1.0</text>
<line x1="536.1" y1="336.2" x2="537.6" y2="336.2" stroke="#4a4a4a" stroke-width="0.8"/>
<text x="535.8000000000001" y="338.0" font-size="5.4" font-weight="bold" fill="#111" stroke="#111" stroke-width="0.08" text-anchor="end">1.5</text>
<line x1="536.1" y1="313.2" x2="537.6" y2="313.2" stroke="#4a4a4a" stroke-width="0.8"/>
<text x="535.8000000000001" y="315.0" font-size="5.4" font-weight="bold" fill="#111" stroke="#111" stroke-width="0.08" text-anchor="end">2.0</text>
<line x1="536.1" y1="290.2" x2="537.6" y2="290.2" stroke="#4a4a4a" stroke-width="0.8"/>
<text x="535.8000000000001" y="292.0" font-size="5.4" font-weight="bold" fill="#111" stroke="#111" stroke-width="0.08" text-anchor="end">2.5</text>
<line x1="548.5" y1="382.1" x2="548.5" y2="383.6" stroke="#4a4a4a" stroke-width="0.8"/>
<text x="548.5" y="389.0" font-size="4.7" font-weight="bold" fill="#111" stroke="#111" stroke-width="0.08" text-anchor="middle">Baseline</text>
<line x1="565.3" y1="382.1" x2="565.3" y2="383.6" stroke="#4a4a4a" stroke-width="0.8"/>
<text x="565.3" y="389.0" font-size="4.7" font-weight="bold" fill="#111" stroke="#111" stroke-width="0.08" text-anchor="middle">2</text>
<line x1="582.1" y1="382.1" x2="582.1" y2="383.6" stroke="#4a4a4a" stroke-width="0.8"/>
<text x="582.1" y="389.0" font-size="4.7" font-weight="bold" fill="#111" stroke="#111" stroke-width="0.08" text-anchor="middle">7</text>
<line x1="598.9" y1="382.1" x2="598.9" y2="383.6" stroke="#4a4a4a" stroke-width="0.8"/>
<text x="598.9" y="389.0" font-size="4.7" font-weight="bold" fill="#111" stroke="#111" stroke-width="0.08" text-anchor="middle">14</text>
<line x1="615.7" y1="382.1" x2="615.7" y2="383.6" stroke="#4a4a4a" stroke-width="0.8"/>
<text x="615.7" y="389.0" font-size="4.7" font-weight="bold" fill="#111" stroke="#111" stroke-width="0.08" text-anchor="middle">21</text>
<line x1="632.5" y1="382.1" x2="632.5" y2="383.6" stroke="#4a4a4a" stroke-width="0.8"/>
<text x="632.5" y="389.0" font-size="4.7" font-weight="bold" fill="#111" stroke="#111" stroke-width="0.08" text-anchor="middle">28</text>
<line x1="649.3" y1="382.1" x2="649.3" y2="383.6" stroke="#4a4a4a" stroke-width="0.8"/>
<text x="649.3" y="389.0" font-size="4.7" font-weight="bold" fill="#111" stroke="#111" stroke-width="0.08" text-anchor="middle">35</text>
<text x="601.1" y="397.4" font-size="7.4" font-weight="bold" fill="#111" text-anchor="middle" textLength="12.5" lengthAdjust="spacingAndGlyphs">Day</text>
<text x="519.3" y="337.5" font-size="7" font-weight="bold" fill="#1a1a1a" text-anchor="middle" textLength="105.5" lengthAdjust="spacingAndGlyphs" transform="rotate(-90 519.3 337.5)" dominant-baseline="central">Relative Bioluminescence Ratio</text>
<line x1="544.3" y1="329.6" x2="556.3" y2="329.6" stroke="#f05050" stroke-width="0.8"/>
<line x1="544.3" y1="329" x2="556.3" y2="329" stroke="#3048ff" stroke-width="0.8"/>
<line x1="577.2" y1="312" x2="589.2" y2="312" stroke="#f05050" stroke-width="0.8"/>
<line x1="577.2" y1="353.4" x2="589.2" y2="353.4" stroke="#3048ff" stroke-width="0.8"/>
<line x1="594" y1="336.5" x2="606" y2="336.5" stroke="#f05050" stroke-width="0.8"/>
<line x1="611.4" y1="328" x2="623.4" y2="328" stroke="#f05050" stroke-width="0.8"/>
<line x1="611.4" y1="335.5" x2="623.4" y2="335.5" stroke="#3048ff" stroke-width="0.8"/>
<line x1="628.2" y1="349" x2="640.2" y2="349" stroke="#3048ff" stroke-width="0.8"/>
<line x1="644.6" y1="345" x2="656.6" y2="345" stroke="#f05050" stroke-width="0.8"/>
<line x1="644.6" y1="346" x2="656.6" y2="346" stroke="#3048ff" stroke-width="0.8"/>
<rect x="546.9" y="323.8" width="3" height="3" fill="#1c2cff"/>
<rect x="542.9" y="327.3" width="3" height="3" fill="#1c2cff"/>
<rect x="546.9" y="329.8" width="3" height="3" fill="#1c2cff"/>
<rect x="549.5" y="330.5" width="3" height="3" fill="#1c2cff"/>
<circle cx="544.4" cy="333.3" r="1.55" fill="#e8242a"/>
<circle cx="552.7" cy="329.6" r="1.55" fill="#e8242a"/>
<circle cx="552.7" cy="333.7" r="1.55" fill="#e8242a"/>
<circle cx="548.4" cy="329.6" r="1.55" fill="#e8242a"/>
<circle cx="561" cy="327.2" r="1.55" fill="#e8242a"/>
<circle cx="564.3" cy="326.4" r="1.55" fill="#e8242a"/>
<circle cx="567.6" cy="326.4" r="1.55" fill="#e8242a"/>
<circle cx="570.9" cy="326.4" r="1.55" fill="#e8242a"/>
<rect x="560.2" y="337.3" width="3" height="3" fill="#1c2cff"/>
<rect x="562.9" y="335.0" width="3" height="3" fill="#1c2cff"/>
<rect x="566.1" y="337.0" width="3" height="3" fill="#1c2cff"/>
<rect x="569.0" y="336.2" width="3" height="3" fill="#1c2cff"/>
<circle cx="582.9" cy="306.7" r="1.55" fill="#e8242a"/>
<circle cx="582.9" cy="312" r="1.55" fill="#e8242a"/>
<circle cx="582.9" cy="318" r="1.55" fill="#e8242a"/>
<rect x="581.4" y="348.2" width="3" height="3" fill="#1c2cff"/>
<rect x="585.9" y="353.0" width="3" height="3" fill="#1c2cff"/>
<rect x="577.4" y="355.4" width="3" height="3" fill="#1c2cff"/>
<circle cx="595.4" cy="336.1" r="1.55" fill="#e8242a"/>
<circle cx="595.4" cy="340" r="1.55" fill="#e8242a"/>
<circle cx="600.5" cy="331.7" r="1.55" fill="#e8242a"/>
<circle cx="604" cy="338.5" r="1.55" fill="#e8242a"/>
<rect x="593.5" y="351.0" width="3" height="3" fill="#1c2cff"/>
<rect x="596.5" y="350.1" width="3" height="3" fill="#1c2cff"/>
<rect x="599.5" y="350.1" width="3" height="3" fill="#1c2cff"/>
<rect x="602.5" y="350.1" width="3" height="3" fill="#1c2cff"/>
<circle cx="612.8" cy="330.1" r="1.55" fill="#e8242a"/>
<circle cx="616.8" cy="328.5" r="1.55" fill="#e8242a"/>
<circle cx="621.1" cy="325.6" r="1.55" fill="#e8242a"/>
<circle cx="621.1" cy="330.4" r="1.55" fill="#e8242a"/>
<rect x="611.3" y="334.0" width="3" height="3" fill="#1c2cff"/>
<rect x="615.3" y="332.9" width="3" height="3" fill="#1c2cff"/>
<rect x="619.6" y="334.0" width="3" height="3" fill="#1c2cff"/>
<rect x="615.3" y="339.8" width="3" height="3" fill="#1c2cff"/>
<circle cx="629.6" cy="337.4" r="1.55" fill="#e8242a"/>
<circle cx="633" cy="337.1" r="1.55" fill="#e8242a"/>
<circle cx="636.4" cy="337.1" r="1.55" fill="#e8242a"/>
<circle cx="639.8" cy="337.1" r="1.55" fill="#e8242a"/>
<rect x="628.1" y="342.5" width="3" height="3" fill="#1c2cff"/>
<rect x="628.1" y="346.5" width="3" height="3" fill="#1c2cff"/>
<rect x="628.1" y="350.5" width="3" height="3" fill="#1c2cff"/>
<rect x="632.4" y="348.1" width="3" height="3" fill="#1c2cff"/>
<rect x="636.9" y="344.9" width="3" height="3" fill="#1c2cff"/>
<rect x="636.9" y="349.7" width="3" height="3" fill="#1c2cff"/>
<circle cx="650.4" cy="342.4" r="1.55" fill="#e8242a"/>
<circle cx="654.4" cy="343.2" r="1.55" fill="#e8242a"/>
<circle cx="646" cy="344.5" r="1.55" fill="#e8242a"/>
<rect x="644.9" y="341.7" width="3" height="3" fill="#1c2cff"/>
<rect x="644.9" y="346.5" width="3" height="3" fill="#1c2cff"/>
<rect x="649.7" y="345.7" width="3" height="3" fill="#1c2cff"/>
<rect x="653.7" y="346.2" width="3" height="3" fill="#1c2cff"/>
</svg></body></html>
